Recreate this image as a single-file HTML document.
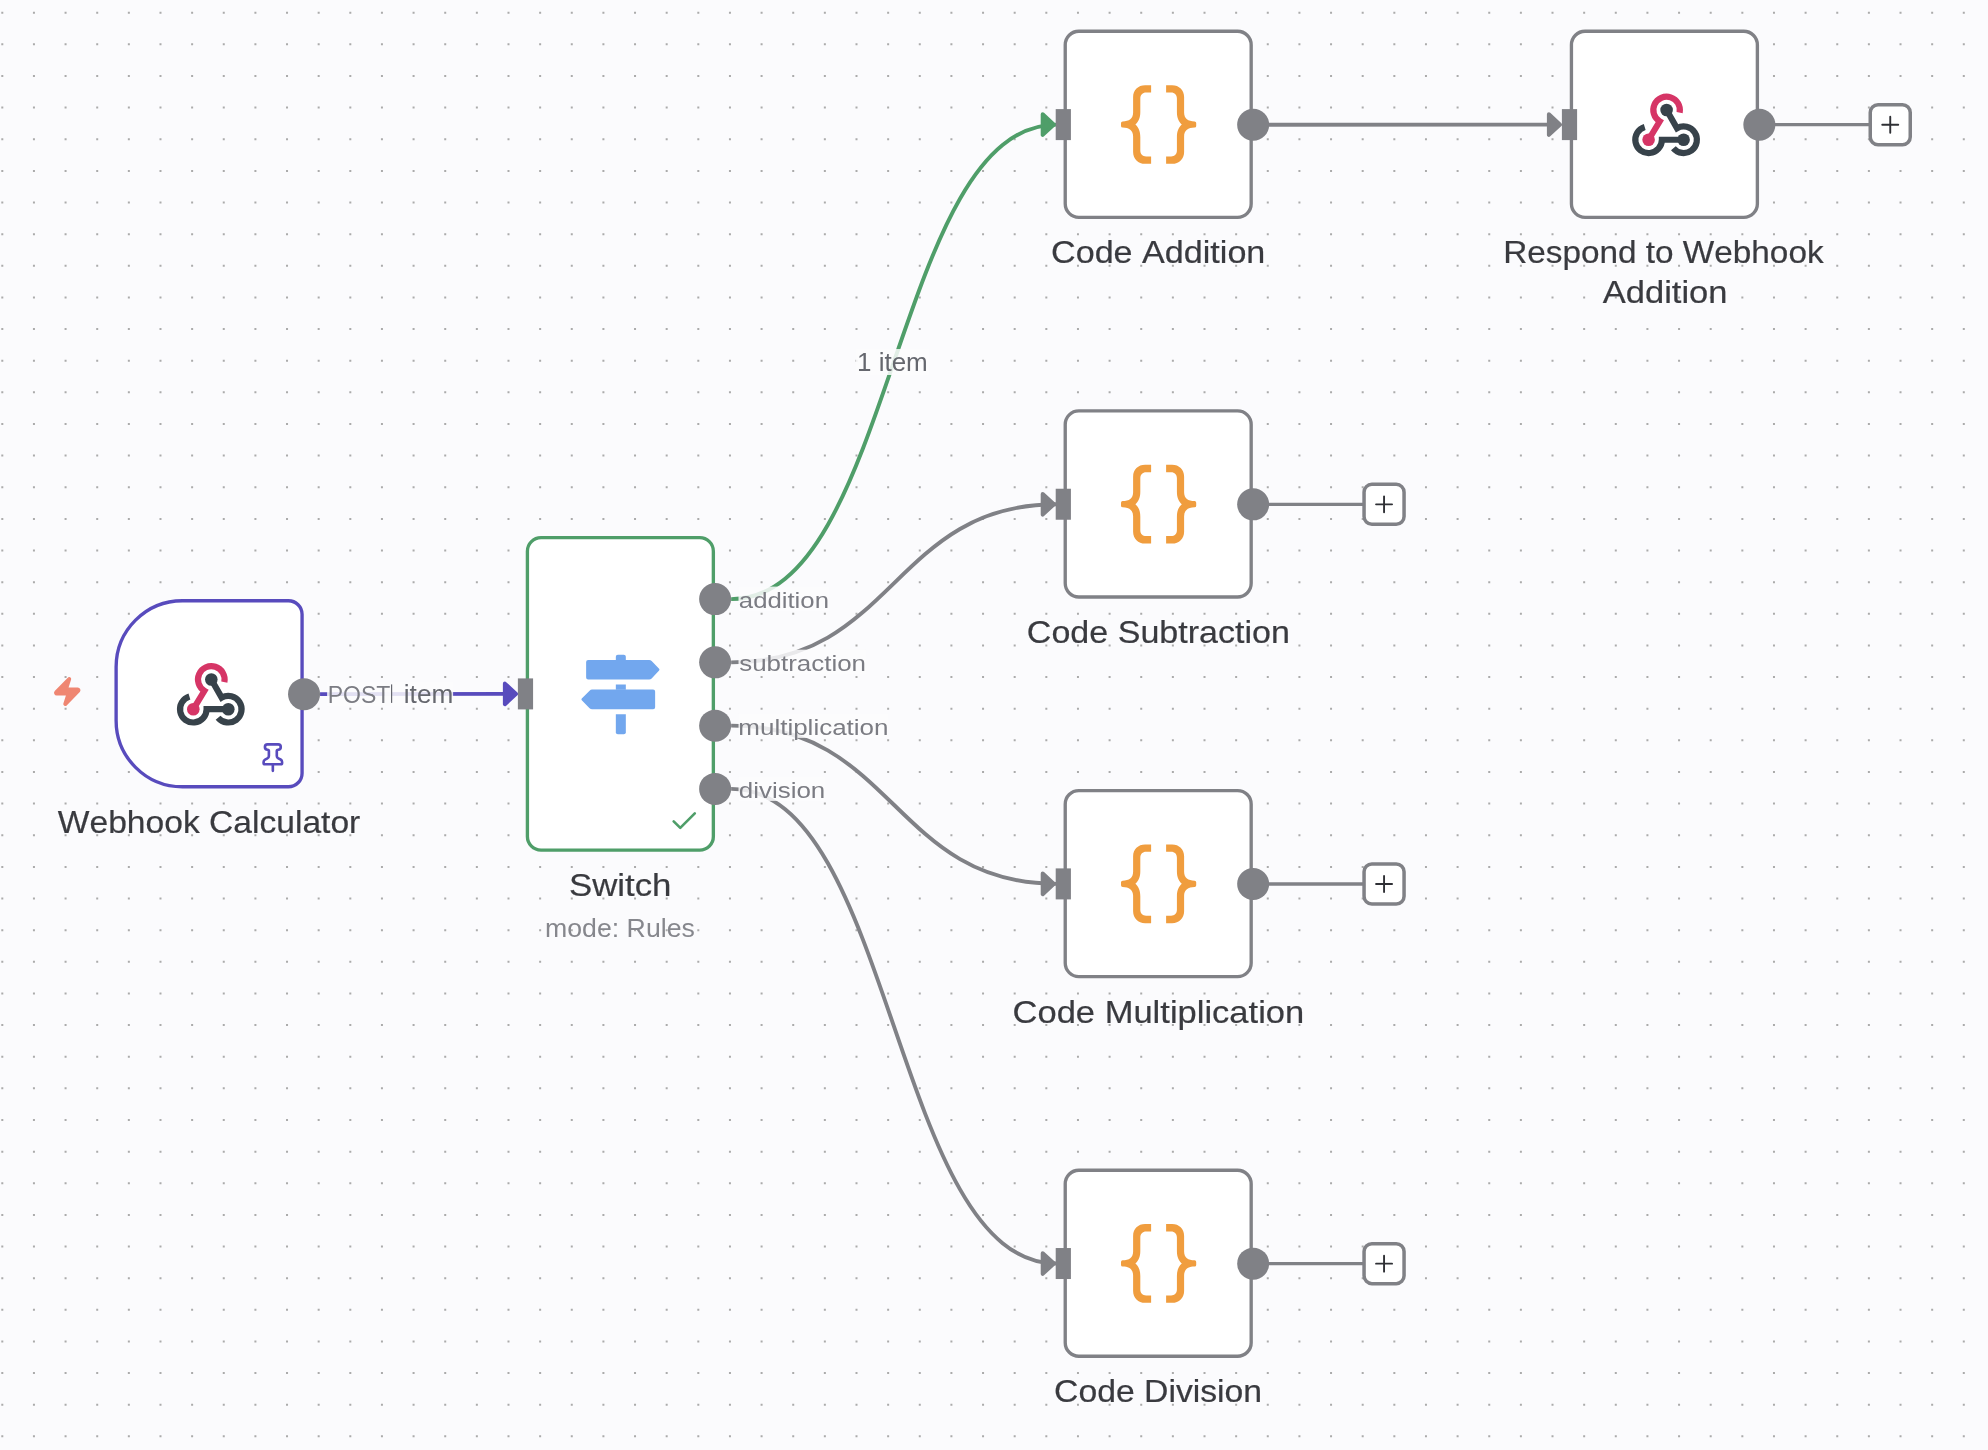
<!DOCTYPE html>
<html><head><meta charset="utf-8"><title>n8n workflow</title>
<style>html,body{margin:0;padding:0;background:#fbfbfd;width:1988px;height:1450px;overflow:hidden}svg{display:block;will-change:transform}text{font-family:"Liberation Sans",sans-serif;font-kerning:none}</style>
</head><body><svg width="1988" height="1450" viewBox="0 0 1988 1450" font-family="Liberation Sans, sans-serif"><path fill="#ababab" d="M1.3 11.7h2v2h-2zM1.3 43.34h2v2h-2zM1.3 74.97h2v2h-2zM1.3 106.61h2v2h-2zM1.3 138.25h2v2h-2zM1.3 169.88h2v2h-2zM1.3 201.52h2v2h-2zM1.3 233.16h2v2h-2zM1.3 264.8h2v2h-2zM1.3 296.43h2v2h-2zM1.3 328.07h2v2h-2zM1.3 359.71h2v2h-2zM1.3 391.34h2v2h-2zM1.3 422.98h2v2h-2zM1.3 454.62h2v2h-2zM1.3 486.25h2v2h-2zM1.3 517.89h2v2h-2zM1.3 549.53h2v2h-2zM1.3 581.17h2v2h-2zM1.3 612.8h2v2h-2zM1.3 644.44h2v2h-2zM1.3 676.08h2v2h-2zM1.3 707.71h2v2h-2zM1.3 739.35h2v2h-2zM1.3 770.99h2v2h-2zM1.3 802.62h2v2h-2zM1.3 834.26h2v2h-2zM1.3 865.9h2v2h-2zM1.3 897.54h2v2h-2zM1.3 929.17h2v2h-2zM1.3 960.81h2v2h-2zM1.3 992.45h2v2h-2zM1.3 1024.08h2v2h-2zM1.3 1055.72h2v2h-2zM1.3 1087.36h2v2h-2zM1.3 1119h2v2h-2zM1.3 1150.63h2v2h-2zM1.3 1182.27h2v2h-2zM1.3 1213.91h2v2h-2zM1.3 1245.54h2v2h-2zM1.3 1277.18h2v2h-2zM1.3 1308.82h2v2h-2zM1.3 1340.45h2v2h-2zM1.3 1372.09h2v2h-2zM1.3 1403.73h2v2h-2zM1.3 1435.37h2v2h-2zM32.94 11.7h2v2h-2zM32.94 43.34h2v2h-2zM32.94 74.97h2v2h-2zM32.94 106.61h2v2h-2zM32.94 138.25h2v2h-2zM32.94 169.88h2v2h-2zM32.94 201.52h2v2h-2zM32.94 233.16h2v2h-2zM32.94 264.8h2v2h-2zM32.94 296.43h2v2h-2zM32.94 328.07h2v2h-2zM32.94 359.71h2v2h-2zM32.94 391.34h2v2h-2zM32.94 422.98h2v2h-2zM32.94 454.62h2v2h-2zM32.94 486.25h2v2h-2zM32.94 517.89h2v2h-2zM32.94 549.53h2v2h-2zM32.94 581.17h2v2h-2zM32.94 612.8h2v2h-2zM32.94 644.44h2v2h-2zM32.94 676.08h2v2h-2zM32.94 707.71h2v2h-2zM32.94 739.35h2v2h-2zM32.94 770.99h2v2h-2zM32.94 802.62h2v2h-2zM32.94 834.26h2v2h-2zM32.94 865.9h2v2h-2zM32.94 897.54h2v2h-2zM32.94 929.17h2v2h-2zM32.94 960.81h2v2h-2zM32.94 992.45h2v2h-2zM32.94 1024.08h2v2h-2zM32.94 1055.72h2v2h-2zM32.94 1087.36h2v2h-2zM32.94 1119h2v2h-2zM32.94 1150.63h2v2h-2zM32.94 1182.27h2v2h-2zM32.94 1213.91h2v2h-2zM32.94 1245.54h2v2h-2zM32.94 1277.18h2v2h-2zM32.94 1308.82h2v2h-2zM32.94 1340.45h2v2h-2zM32.94 1372.09h2v2h-2zM32.94 1403.73h2v2h-2zM32.94 1435.37h2v2h-2zM64.57 11.7h2v2h-2zM64.57 43.34h2v2h-2zM64.57 74.97h2v2h-2zM64.57 106.61h2v2h-2zM64.57 138.25h2v2h-2zM64.57 169.88h2v2h-2zM64.57 201.52h2v2h-2zM64.57 233.16h2v2h-2zM64.57 264.8h2v2h-2zM64.57 296.43h2v2h-2zM64.57 328.07h2v2h-2zM64.57 359.71h2v2h-2zM64.57 391.34h2v2h-2zM64.57 422.98h2v2h-2zM64.57 454.62h2v2h-2zM64.57 486.25h2v2h-2zM64.57 517.89h2v2h-2zM64.57 549.53h2v2h-2zM64.57 581.17h2v2h-2zM64.57 612.8h2v2h-2zM64.57 644.44h2v2h-2zM64.57 676.08h2v2h-2zM64.57 707.71h2v2h-2zM64.57 739.35h2v2h-2zM64.57 770.99h2v2h-2zM64.57 802.62h2v2h-2zM64.57 834.26h2v2h-2zM64.57 865.9h2v2h-2zM64.57 897.54h2v2h-2zM64.57 929.17h2v2h-2zM64.57 960.81h2v2h-2zM64.57 992.45h2v2h-2zM64.57 1024.08h2v2h-2zM64.57 1055.72h2v2h-2zM64.57 1087.36h2v2h-2zM64.57 1119h2v2h-2zM64.57 1150.63h2v2h-2zM64.57 1182.27h2v2h-2zM64.57 1213.91h2v2h-2zM64.57 1245.54h2v2h-2zM64.57 1277.18h2v2h-2zM64.57 1308.82h2v2h-2zM64.57 1340.45h2v2h-2zM64.57 1372.09h2v2h-2zM64.57 1403.73h2v2h-2zM64.57 1435.37h2v2h-2zM96.21 11.7h2v2h-2zM96.21 43.34h2v2h-2zM96.21 74.97h2v2h-2zM96.21 106.61h2v2h-2zM96.21 138.25h2v2h-2zM96.21 169.88h2v2h-2zM96.21 201.52h2v2h-2zM96.21 233.16h2v2h-2zM96.21 264.8h2v2h-2zM96.21 296.43h2v2h-2zM96.21 328.07h2v2h-2zM96.21 359.71h2v2h-2zM96.21 391.34h2v2h-2zM96.21 422.98h2v2h-2zM96.21 454.62h2v2h-2zM96.21 486.25h2v2h-2zM96.21 517.89h2v2h-2zM96.21 549.53h2v2h-2zM96.21 581.17h2v2h-2zM96.21 612.8h2v2h-2zM96.21 644.44h2v2h-2zM96.21 676.08h2v2h-2zM96.21 707.71h2v2h-2zM96.21 739.35h2v2h-2zM96.21 770.99h2v2h-2zM96.21 802.62h2v2h-2zM96.21 834.26h2v2h-2zM96.21 865.9h2v2h-2zM96.21 897.54h2v2h-2zM96.21 929.17h2v2h-2zM96.21 960.81h2v2h-2zM96.21 992.45h2v2h-2zM96.21 1024.08h2v2h-2zM96.21 1055.72h2v2h-2zM96.21 1087.36h2v2h-2zM96.21 1119h2v2h-2zM96.21 1150.63h2v2h-2zM96.21 1182.27h2v2h-2zM96.21 1213.91h2v2h-2zM96.21 1245.54h2v2h-2zM96.21 1277.18h2v2h-2zM96.21 1308.82h2v2h-2zM96.21 1340.45h2v2h-2zM96.21 1372.09h2v2h-2zM96.21 1403.73h2v2h-2zM96.21 1435.37h2v2h-2zM127.85 11.7h2v2h-2zM127.85 43.34h2v2h-2zM127.85 74.97h2v2h-2zM127.85 106.61h2v2h-2zM127.85 138.25h2v2h-2zM127.85 169.88h2v2h-2zM127.85 201.52h2v2h-2zM127.85 233.16h2v2h-2zM127.85 264.8h2v2h-2zM127.85 296.43h2v2h-2zM127.85 328.07h2v2h-2zM127.85 359.71h2v2h-2zM127.85 391.34h2v2h-2zM127.85 422.98h2v2h-2zM127.85 454.62h2v2h-2zM127.85 486.25h2v2h-2zM127.85 517.89h2v2h-2zM127.85 549.53h2v2h-2zM127.85 581.17h2v2h-2zM127.85 612.8h2v2h-2zM127.85 644.44h2v2h-2zM127.85 676.08h2v2h-2zM127.85 707.71h2v2h-2zM127.85 739.35h2v2h-2zM127.85 770.99h2v2h-2zM127.85 802.62h2v2h-2zM127.85 834.26h2v2h-2zM127.85 865.9h2v2h-2zM127.85 897.54h2v2h-2zM127.85 929.17h2v2h-2zM127.85 960.81h2v2h-2zM127.85 992.45h2v2h-2zM127.85 1024.08h2v2h-2zM127.85 1055.72h2v2h-2zM127.85 1087.36h2v2h-2zM127.85 1119h2v2h-2zM127.85 1150.63h2v2h-2zM127.85 1182.27h2v2h-2zM127.85 1213.91h2v2h-2zM127.85 1245.54h2v2h-2zM127.85 1277.18h2v2h-2zM127.85 1308.82h2v2h-2zM127.85 1340.45h2v2h-2zM127.85 1372.09h2v2h-2zM127.85 1403.73h2v2h-2zM127.85 1435.37h2v2h-2zM159.49 11.7h2v2h-2zM159.49 43.34h2v2h-2zM159.49 74.97h2v2h-2zM159.49 106.61h2v2h-2zM159.49 138.25h2v2h-2zM159.49 169.88h2v2h-2zM159.49 201.52h2v2h-2zM159.49 233.16h2v2h-2zM159.49 264.8h2v2h-2zM159.49 296.43h2v2h-2zM159.49 328.07h2v2h-2zM159.49 359.71h2v2h-2zM159.49 391.34h2v2h-2zM159.49 422.98h2v2h-2zM159.49 454.62h2v2h-2zM159.49 486.25h2v2h-2zM159.49 517.89h2v2h-2zM159.49 549.53h2v2h-2zM159.49 581.17h2v2h-2zM159.49 612.8h2v2h-2zM159.49 644.44h2v2h-2zM159.49 676.08h2v2h-2zM159.49 707.71h2v2h-2zM159.49 739.35h2v2h-2zM159.49 770.99h2v2h-2zM159.49 802.62h2v2h-2zM159.49 834.26h2v2h-2zM159.49 865.9h2v2h-2zM159.49 897.54h2v2h-2zM159.49 929.17h2v2h-2zM159.49 960.81h2v2h-2zM159.49 992.45h2v2h-2zM159.49 1024.08h2v2h-2zM159.49 1055.72h2v2h-2zM159.49 1087.36h2v2h-2zM159.49 1119h2v2h-2zM159.49 1150.63h2v2h-2zM159.49 1182.27h2v2h-2zM159.49 1213.91h2v2h-2zM159.49 1245.54h2v2h-2zM159.49 1277.18h2v2h-2zM159.49 1308.82h2v2h-2zM159.49 1340.45h2v2h-2zM159.49 1372.09h2v2h-2zM159.49 1403.73h2v2h-2zM159.49 1435.37h2v2h-2zM191.12 11.7h2v2h-2zM191.12 43.34h2v2h-2zM191.12 74.97h2v2h-2zM191.12 106.61h2v2h-2zM191.12 138.25h2v2h-2zM191.12 169.88h2v2h-2zM191.12 201.52h2v2h-2zM191.12 233.16h2v2h-2zM191.12 264.8h2v2h-2zM191.12 296.43h2v2h-2zM191.12 328.07h2v2h-2zM191.12 359.71h2v2h-2zM191.12 391.34h2v2h-2zM191.12 422.98h2v2h-2zM191.12 454.62h2v2h-2zM191.12 486.25h2v2h-2zM191.12 517.89h2v2h-2zM191.12 549.53h2v2h-2zM191.12 581.17h2v2h-2zM191.12 612.8h2v2h-2zM191.12 644.44h2v2h-2zM191.12 676.08h2v2h-2zM191.12 707.71h2v2h-2zM191.12 739.35h2v2h-2zM191.12 770.99h2v2h-2zM191.12 802.62h2v2h-2zM191.12 834.26h2v2h-2zM191.12 865.9h2v2h-2zM191.12 897.54h2v2h-2zM191.12 929.17h2v2h-2zM191.12 960.81h2v2h-2zM191.12 992.45h2v2h-2zM191.12 1024.08h2v2h-2zM191.12 1055.72h2v2h-2zM191.12 1087.36h2v2h-2zM191.12 1119h2v2h-2zM191.12 1150.63h2v2h-2zM191.12 1182.27h2v2h-2zM191.12 1213.91h2v2h-2zM191.12 1245.54h2v2h-2zM191.12 1277.18h2v2h-2zM191.12 1308.82h2v2h-2zM191.12 1340.45h2v2h-2zM191.12 1372.09h2v2h-2zM191.12 1403.73h2v2h-2zM191.12 1435.37h2v2h-2zM222.76 11.7h2v2h-2zM222.76 43.34h2v2h-2zM222.76 74.97h2v2h-2zM222.76 106.61h2v2h-2zM222.76 138.25h2v2h-2zM222.76 169.88h2v2h-2zM222.76 201.52h2v2h-2zM222.76 233.16h2v2h-2zM222.76 264.8h2v2h-2zM222.76 296.43h2v2h-2zM222.76 328.07h2v2h-2zM222.76 359.71h2v2h-2zM222.76 391.34h2v2h-2zM222.76 422.98h2v2h-2zM222.76 454.62h2v2h-2zM222.76 486.25h2v2h-2zM222.76 517.89h2v2h-2zM222.76 549.53h2v2h-2zM222.76 581.17h2v2h-2zM222.76 612.8h2v2h-2zM222.76 644.44h2v2h-2zM222.76 676.08h2v2h-2zM222.76 707.71h2v2h-2zM222.76 739.35h2v2h-2zM222.76 770.99h2v2h-2zM222.76 802.62h2v2h-2zM222.76 834.26h2v2h-2zM222.76 865.9h2v2h-2zM222.76 897.54h2v2h-2zM222.76 929.17h2v2h-2zM222.76 960.81h2v2h-2zM222.76 992.45h2v2h-2zM222.76 1024.08h2v2h-2zM222.76 1055.72h2v2h-2zM222.76 1087.36h2v2h-2zM222.76 1119h2v2h-2zM222.76 1150.63h2v2h-2zM222.76 1182.27h2v2h-2zM222.76 1213.91h2v2h-2zM222.76 1245.54h2v2h-2zM222.76 1277.18h2v2h-2zM222.76 1308.82h2v2h-2zM222.76 1340.45h2v2h-2zM222.76 1372.09h2v2h-2zM222.76 1403.73h2v2h-2zM222.76 1435.37h2v2h-2zM254.4 11.7h2v2h-2zM254.4 43.34h2v2h-2zM254.4 74.97h2v2h-2zM254.4 106.61h2v2h-2zM254.4 138.25h2v2h-2zM254.4 169.88h2v2h-2zM254.4 201.52h2v2h-2zM254.4 233.16h2v2h-2zM254.4 264.8h2v2h-2zM254.4 296.43h2v2h-2zM254.4 328.07h2v2h-2zM254.4 359.71h2v2h-2zM254.4 391.34h2v2h-2zM254.4 422.98h2v2h-2zM254.4 454.62h2v2h-2zM254.4 486.25h2v2h-2zM254.4 517.89h2v2h-2zM254.4 549.53h2v2h-2zM254.4 581.17h2v2h-2zM254.4 612.8h2v2h-2zM254.4 644.44h2v2h-2zM254.4 676.08h2v2h-2zM254.4 707.71h2v2h-2zM254.4 739.35h2v2h-2zM254.4 770.99h2v2h-2zM254.4 802.62h2v2h-2zM254.4 834.26h2v2h-2zM254.4 865.9h2v2h-2zM254.4 897.54h2v2h-2zM254.4 929.17h2v2h-2zM254.4 960.81h2v2h-2zM254.4 992.45h2v2h-2zM254.4 1024.08h2v2h-2zM254.4 1055.72h2v2h-2zM254.4 1087.36h2v2h-2zM254.4 1119h2v2h-2zM254.4 1150.63h2v2h-2zM254.4 1182.27h2v2h-2zM254.4 1213.91h2v2h-2zM254.4 1245.54h2v2h-2zM254.4 1277.18h2v2h-2zM254.4 1308.82h2v2h-2zM254.4 1340.45h2v2h-2zM254.4 1372.09h2v2h-2zM254.4 1403.73h2v2h-2zM254.4 1435.37h2v2h-2zM286.03 11.7h2v2h-2zM286.03 43.34h2v2h-2zM286.03 74.97h2v2h-2zM286.03 106.61h2v2h-2zM286.03 138.25h2v2h-2zM286.03 169.88h2v2h-2zM286.03 201.52h2v2h-2zM286.03 233.16h2v2h-2zM286.03 264.8h2v2h-2zM286.03 296.43h2v2h-2zM286.03 328.07h2v2h-2zM286.03 359.71h2v2h-2zM286.03 391.34h2v2h-2zM286.03 422.98h2v2h-2zM286.03 454.62h2v2h-2zM286.03 486.25h2v2h-2zM286.03 517.89h2v2h-2zM286.03 549.53h2v2h-2zM286.03 581.17h2v2h-2zM286.03 612.8h2v2h-2zM286.03 644.44h2v2h-2zM286.03 676.08h2v2h-2zM286.03 707.71h2v2h-2zM286.03 739.35h2v2h-2zM286.03 770.99h2v2h-2zM286.03 802.62h2v2h-2zM286.03 834.26h2v2h-2zM286.03 865.9h2v2h-2zM286.03 897.54h2v2h-2zM286.03 929.17h2v2h-2zM286.03 960.81h2v2h-2zM286.03 992.45h2v2h-2zM286.03 1024.08h2v2h-2zM286.03 1055.72h2v2h-2zM286.03 1087.36h2v2h-2zM286.03 1119h2v2h-2zM286.03 1150.63h2v2h-2zM286.03 1182.27h2v2h-2zM286.03 1213.91h2v2h-2zM286.03 1245.54h2v2h-2zM286.03 1277.18h2v2h-2zM286.03 1308.82h2v2h-2zM286.03 1340.45h2v2h-2zM286.03 1372.09h2v2h-2zM286.03 1403.73h2v2h-2zM286.03 1435.37h2v2h-2zM317.67 11.7h2v2h-2zM317.67 43.34h2v2h-2zM317.67 74.97h2v2h-2zM317.67 106.61h2v2h-2zM317.67 138.25h2v2h-2zM317.67 169.88h2v2h-2zM317.67 201.52h2v2h-2zM317.67 233.16h2v2h-2zM317.67 264.8h2v2h-2zM317.67 296.43h2v2h-2zM317.67 328.07h2v2h-2zM317.67 359.71h2v2h-2zM317.67 391.34h2v2h-2zM317.67 422.98h2v2h-2zM317.67 454.62h2v2h-2zM317.67 486.25h2v2h-2zM317.67 517.89h2v2h-2zM317.67 549.53h2v2h-2zM317.67 581.17h2v2h-2zM317.67 612.8h2v2h-2zM317.67 644.44h2v2h-2zM317.67 676.08h2v2h-2zM317.67 707.71h2v2h-2zM317.67 739.35h2v2h-2zM317.67 770.99h2v2h-2zM317.67 802.62h2v2h-2zM317.67 834.26h2v2h-2zM317.67 865.9h2v2h-2zM317.67 897.54h2v2h-2zM317.67 929.17h2v2h-2zM317.67 960.81h2v2h-2zM317.67 992.45h2v2h-2zM317.67 1024.08h2v2h-2zM317.67 1055.72h2v2h-2zM317.67 1087.36h2v2h-2zM317.67 1119h2v2h-2zM317.67 1150.63h2v2h-2zM317.67 1182.27h2v2h-2zM317.67 1213.91h2v2h-2zM317.67 1245.54h2v2h-2zM317.67 1277.18h2v2h-2zM317.67 1308.82h2v2h-2zM317.67 1340.45h2v2h-2zM317.67 1372.09h2v2h-2zM317.67 1403.73h2v2h-2zM317.67 1435.37h2v2h-2zM349.31 11.7h2v2h-2zM349.31 43.34h2v2h-2zM349.31 74.97h2v2h-2zM349.31 106.61h2v2h-2zM349.31 138.25h2v2h-2zM349.31 169.88h2v2h-2zM349.31 201.52h2v2h-2zM349.31 233.16h2v2h-2zM349.31 264.8h2v2h-2zM349.31 296.43h2v2h-2zM349.31 328.07h2v2h-2zM349.31 359.71h2v2h-2zM349.31 391.34h2v2h-2zM349.31 422.98h2v2h-2zM349.31 454.62h2v2h-2zM349.31 486.25h2v2h-2zM349.31 517.89h2v2h-2zM349.31 549.53h2v2h-2zM349.31 581.17h2v2h-2zM349.31 612.8h2v2h-2zM349.31 644.44h2v2h-2zM349.31 676.08h2v2h-2zM349.31 707.71h2v2h-2zM349.31 739.35h2v2h-2zM349.31 770.99h2v2h-2zM349.31 802.62h2v2h-2zM349.31 834.26h2v2h-2zM349.31 865.9h2v2h-2zM349.31 897.54h2v2h-2zM349.31 929.17h2v2h-2zM349.31 960.81h2v2h-2zM349.31 992.45h2v2h-2zM349.31 1024.08h2v2h-2zM349.31 1055.72h2v2h-2zM349.31 1087.36h2v2h-2zM349.31 1119h2v2h-2zM349.31 1150.63h2v2h-2zM349.31 1182.27h2v2h-2zM349.31 1213.91h2v2h-2zM349.31 1245.54h2v2h-2zM349.31 1277.18h2v2h-2zM349.31 1308.82h2v2h-2zM349.31 1340.45h2v2h-2zM349.31 1372.09h2v2h-2zM349.31 1403.73h2v2h-2zM349.31 1435.37h2v2h-2zM380.94 11.7h2v2h-2zM380.94 43.34h2v2h-2zM380.94 74.97h2v2h-2zM380.94 106.61h2v2h-2zM380.94 138.25h2v2h-2zM380.94 169.88h2v2h-2zM380.94 201.52h2v2h-2zM380.94 233.16h2v2h-2zM380.94 264.8h2v2h-2zM380.94 296.43h2v2h-2zM380.94 328.07h2v2h-2zM380.94 359.71h2v2h-2zM380.94 391.34h2v2h-2zM380.94 422.98h2v2h-2zM380.94 454.62h2v2h-2zM380.94 486.25h2v2h-2zM380.94 517.89h2v2h-2zM380.94 549.53h2v2h-2zM380.94 581.17h2v2h-2zM380.94 612.8h2v2h-2zM380.94 644.44h2v2h-2zM380.94 676.08h2v2h-2zM380.94 707.71h2v2h-2zM380.94 739.35h2v2h-2zM380.94 770.99h2v2h-2zM380.94 802.62h2v2h-2zM380.94 834.26h2v2h-2zM380.94 865.9h2v2h-2zM380.94 897.54h2v2h-2zM380.94 929.17h2v2h-2zM380.94 960.81h2v2h-2zM380.94 992.45h2v2h-2zM380.94 1024.08h2v2h-2zM380.94 1055.72h2v2h-2zM380.94 1087.36h2v2h-2zM380.94 1119h2v2h-2zM380.94 1150.63h2v2h-2zM380.94 1182.27h2v2h-2zM380.94 1213.91h2v2h-2zM380.94 1245.54h2v2h-2zM380.94 1277.18h2v2h-2zM380.94 1308.82h2v2h-2zM380.94 1340.45h2v2h-2zM380.94 1372.09h2v2h-2zM380.94 1403.73h2v2h-2zM380.94 1435.37h2v2h-2zM412.58 11.7h2v2h-2zM412.58 43.34h2v2h-2zM412.58 74.97h2v2h-2zM412.58 106.61h2v2h-2zM412.58 138.25h2v2h-2zM412.58 169.88h2v2h-2zM412.58 201.52h2v2h-2zM412.58 233.16h2v2h-2zM412.58 264.8h2v2h-2zM412.58 296.43h2v2h-2zM412.58 328.07h2v2h-2zM412.58 359.71h2v2h-2zM412.58 391.34h2v2h-2zM412.58 422.98h2v2h-2zM412.58 454.62h2v2h-2zM412.58 486.25h2v2h-2zM412.58 517.89h2v2h-2zM412.58 549.53h2v2h-2zM412.58 581.17h2v2h-2zM412.58 612.8h2v2h-2zM412.58 644.44h2v2h-2zM412.58 676.08h2v2h-2zM412.58 707.71h2v2h-2zM412.58 739.35h2v2h-2zM412.58 770.99h2v2h-2zM412.58 802.62h2v2h-2zM412.58 834.26h2v2h-2zM412.58 865.9h2v2h-2zM412.58 897.54h2v2h-2zM412.58 929.17h2v2h-2zM412.58 960.81h2v2h-2zM412.58 992.45h2v2h-2zM412.58 1024.08h2v2h-2zM412.58 1055.72h2v2h-2zM412.58 1087.36h2v2h-2zM412.58 1119h2v2h-2zM412.58 1150.63h2v2h-2zM412.58 1182.27h2v2h-2zM412.58 1213.91h2v2h-2zM412.58 1245.54h2v2h-2zM412.58 1277.18h2v2h-2zM412.58 1308.82h2v2h-2zM412.58 1340.45h2v2h-2zM412.58 1372.09h2v2h-2zM412.58 1403.73h2v2h-2zM412.58 1435.37h2v2h-2zM444.22 11.7h2v2h-2zM444.22 43.34h2v2h-2zM444.22 74.97h2v2h-2zM444.22 106.61h2v2h-2zM444.22 138.25h2v2h-2zM444.22 169.88h2v2h-2zM444.22 201.52h2v2h-2zM444.22 233.16h2v2h-2zM444.22 264.8h2v2h-2zM444.22 296.43h2v2h-2zM444.22 328.07h2v2h-2zM444.22 359.71h2v2h-2zM444.22 391.34h2v2h-2zM444.22 422.98h2v2h-2zM444.22 454.62h2v2h-2zM444.22 486.25h2v2h-2zM444.22 517.89h2v2h-2zM444.22 549.53h2v2h-2zM444.22 581.17h2v2h-2zM444.22 612.8h2v2h-2zM444.22 644.44h2v2h-2zM444.22 676.08h2v2h-2zM444.22 707.71h2v2h-2zM444.22 739.35h2v2h-2zM444.22 770.99h2v2h-2zM444.22 802.62h2v2h-2zM444.22 834.26h2v2h-2zM444.22 865.9h2v2h-2zM444.22 897.54h2v2h-2zM444.22 929.17h2v2h-2zM444.22 960.81h2v2h-2zM444.22 992.45h2v2h-2zM444.22 1024.08h2v2h-2zM444.22 1055.72h2v2h-2zM444.22 1087.36h2v2h-2zM444.22 1119h2v2h-2zM444.22 1150.63h2v2h-2zM444.22 1182.27h2v2h-2zM444.22 1213.91h2v2h-2zM444.22 1245.54h2v2h-2zM444.22 1277.18h2v2h-2zM444.22 1308.82h2v2h-2zM444.22 1340.45h2v2h-2zM444.22 1372.09h2v2h-2zM444.22 1403.73h2v2h-2zM444.22 1435.37h2v2h-2zM475.86 11.7h2v2h-2zM475.86 43.34h2v2h-2zM475.86 74.97h2v2h-2zM475.86 106.61h2v2h-2zM475.86 138.25h2v2h-2zM475.86 169.88h2v2h-2zM475.86 201.52h2v2h-2zM475.86 233.16h2v2h-2zM475.86 264.8h2v2h-2zM475.86 296.43h2v2h-2zM475.86 328.07h2v2h-2zM475.86 359.71h2v2h-2zM475.86 391.34h2v2h-2zM475.86 422.98h2v2h-2zM475.86 454.62h2v2h-2zM475.86 486.25h2v2h-2zM475.86 517.89h2v2h-2zM475.86 549.53h2v2h-2zM475.86 581.17h2v2h-2zM475.86 612.8h2v2h-2zM475.86 644.44h2v2h-2zM475.86 676.08h2v2h-2zM475.86 707.71h2v2h-2zM475.86 739.35h2v2h-2zM475.86 770.99h2v2h-2zM475.86 802.62h2v2h-2zM475.86 834.26h2v2h-2zM475.86 865.9h2v2h-2zM475.86 897.54h2v2h-2zM475.86 929.17h2v2h-2zM475.86 960.81h2v2h-2zM475.86 992.45h2v2h-2zM475.86 1024.08h2v2h-2zM475.86 1055.72h2v2h-2zM475.86 1087.36h2v2h-2zM475.86 1119h2v2h-2zM475.86 1150.63h2v2h-2zM475.86 1182.27h2v2h-2zM475.86 1213.91h2v2h-2zM475.86 1245.54h2v2h-2zM475.86 1277.18h2v2h-2zM475.86 1308.82h2v2h-2zM475.86 1340.45h2v2h-2zM475.86 1372.09h2v2h-2zM475.86 1403.73h2v2h-2zM475.86 1435.37h2v2h-2zM507.49 11.7h2v2h-2zM507.49 43.34h2v2h-2zM507.49 74.97h2v2h-2zM507.49 106.61h2v2h-2zM507.49 138.25h2v2h-2zM507.49 169.88h2v2h-2zM507.49 201.52h2v2h-2zM507.49 233.16h2v2h-2zM507.49 264.8h2v2h-2zM507.49 296.43h2v2h-2zM507.49 328.07h2v2h-2zM507.49 359.71h2v2h-2zM507.49 391.34h2v2h-2zM507.49 422.98h2v2h-2zM507.49 454.62h2v2h-2zM507.49 486.25h2v2h-2zM507.49 517.89h2v2h-2zM507.49 549.53h2v2h-2zM507.49 581.17h2v2h-2zM507.49 612.8h2v2h-2zM507.49 644.44h2v2h-2zM507.49 676.08h2v2h-2zM507.49 707.71h2v2h-2zM507.49 739.35h2v2h-2zM507.49 770.99h2v2h-2zM507.49 802.62h2v2h-2zM507.49 834.26h2v2h-2zM507.49 865.9h2v2h-2zM507.49 897.54h2v2h-2zM507.49 929.17h2v2h-2zM507.49 960.81h2v2h-2zM507.49 992.45h2v2h-2zM507.49 1024.08h2v2h-2zM507.49 1055.72h2v2h-2zM507.49 1087.36h2v2h-2zM507.49 1119h2v2h-2zM507.49 1150.63h2v2h-2zM507.49 1182.27h2v2h-2zM507.49 1213.91h2v2h-2zM507.49 1245.54h2v2h-2zM507.49 1277.18h2v2h-2zM507.49 1308.82h2v2h-2zM507.49 1340.45h2v2h-2zM507.49 1372.09h2v2h-2zM507.49 1403.73h2v2h-2zM507.49 1435.37h2v2h-2zM539.13 11.7h2v2h-2zM539.13 43.34h2v2h-2zM539.13 74.97h2v2h-2zM539.13 106.61h2v2h-2zM539.13 138.25h2v2h-2zM539.13 169.88h2v2h-2zM539.13 201.52h2v2h-2zM539.13 233.16h2v2h-2zM539.13 264.8h2v2h-2zM539.13 296.43h2v2h-2zM539.13 328.07h2v2h-2zM539.13 359.71h2v2h-2zM539.13 391.34h2v2h-2zM539.13 422.98h2v2h-2zM539.13 454.62h2v2h-2zM539.13 486.25h2v2h-2zM539.13 517.89h2v2h-2zM539.13 549.53h2v2h-2zM539.13 581.17h2v2h-2zM539.13 612.8h2v2h-2zM539.13 644.44h2v2h-2zM539.13 676.08h2v2h-2zM539.13 707.71h2v2h-2zM539.13 739.35h2v2h-2zM539.13 770.99h2v2h-2zM539.13 802.62h2v2h-2zM539.13 834.26h2v2h-2zM539.13 865.9h2v2h-2zM539.13 897.54h2v2h-2zM539.13 929.17h2v2h-2zM539.13 960.81h2v2h-2zM539.13 992.45h2v2h-2zM539.13 1024.08h2v2h-2zM539.13 1055.72h2v2h-2zM539.13 1087.36h2v2h-2zM539.13 1119h2v2h-2zM539.13 1150.63h2v2h-2zM539.13 1182.27h2v2h-2zM539.13 1213.91h2v2h-2zM539.13 1245.54h2v2h-2zM539.13 1277.18h2v2h-2zM539.13 1308.82h2v2h-2zM539.13 1340.45h2v2h-2zM539.13 1372.09h2v2h-2zM539.13 1403.73h2v2h-2zM539.13 1435.37h2v2h-2zM570.77 11.7h2v2h-2zM570.77 43.34h2v2h-2zM570.77 74.97h2v2h-2zM570.77 106.61h2v2h-2zM570.77 138.25h2v2h-2zM570.77 169.88h2v2h-2zM570.77 201.52h2v2h-2zM570.77 233.16h2v2h-2zM570.77 264.8h2v2h-2zM570.77 296.43h2v2h-2zM570.77 328.07h2v2h-2zM570.77 359.71h2v2h-2zM570.77 391.34h2v2h-2zM570.77 422.98h2v2h-2zM570.77 454.62h2v2h-2zM570.77 486.25h2v2h-2zM570.77 517.89h2v2h-2zM570.77 549.53h2v2h-2zM570.77 581.17h2v2h-2zM570.77 612.8h2v2h-2zM570.77 644.44h2v2h-2zM570.77 676.08h2v2h-2zM570.77 707.71h2v2h-2zM570.77 739.35h2v2h-2zM570.77 770.99h2v2h-2zM570.77 802.62h2v2h-2zM570.77 834.26h2v2h-2zM570.77 865.9h2v2h-2zM570.77 897.54h2v2h-2zM570.77 929.17h2v2h-2zM570.77 960.81h2v2h-2zM570.77 992.45h2v2h-2zM570.77 1024.08h2v2h-2zM570.77 1055.72h2v2h-2zM570.77 1087.36h2v2h-2zM570.77 1119h2v2h-2zM570.77 1150.63h2v2h-2zM570.77 1182.27h2v2h-2zM570.77 1213.91h2v2h-2zM570.77 1245.54h2v2h-2zM570.77 1277.18h2v2h-2zM570.77 1308.82h2v2h-2zM570.77 1340.45h2v2h-2zM570.77 1372.09h2v2h-2zM570.77 1403.73h2v2h-2zM570.77 1435.37h2v2h-2zM602.4 11.7h2v2h-2zM602.4 43.34h2v2h-2zM602.4 74.97h2v2h-2zM602.4 106.61h2v2h-2zM602.4 138.25h2v2h-2zM602.4 169.88h2v2h-2zM602.4 201.52h2v2h-2zM602.4 233.16h2v2h-2zM602.4 264.8h2v2h-2zM602.4 296.43h2v2h-2zM602.4 328.07h2v2h-2zM602.4 359.71h2v2h-2zM602.4 391.34h2v2h-2zM602.4 422.98h2v2h-2zM602.4 454.62h2v2h-2zM602.4 486.25h2v2h-2zM602.4 517.89h2v2h-2zM602.4 549.53h2v2h-2zM602.4 581.17h2v2h-2zM602.4 612.8h2v2h-2zM602.4 644.44h2v2h-2zM602.4 676.08h2v2h-2zM602.4 707.71h2v2h-2zM602.4 739.35h2v2h-2zM602.4 770.99h2v2h-2zM602.4 802.62h2v2h-2zM602.4 834.26h2v2h-2zM602.4 865.9h2v2h-2zM602.4 897.54h2v2h-2zM602.4 929.17h2v2h-2zM602.4 960.81h2v2h-2zM602.4 992.45h2v2h-2zM602.4 1024.08h2v2h-2zM602.4 1055.72h2v2h-2zM602.4 1087.36h2v2h-2zM602.4 1119h2v2h-2zM602.4 1150.63h2v2h-2zM602.4 1182.27h2v2h-2zM602.4 1213.91h2v2h-2zM602.4 1245.54h2v2h-2zM602.4 1277.18h2v2h-2zM602.4 1308.82h2v2h-2zM602.4 1340.45h2v2h-2zM602.4 1372.09h2v2h-2zM602.4 1403.73h2v2h-2zM602.4 1435.37h2v2h-2zM634.04 11.7h2v2h-2zM634.04 43.34h2v2h-2zM634.04 74.97h2v2h-2zM634.04 106.61h2v2h-2zM634.04 138.25h2v2h-2zM634.04 169.88h2v2h-2zM634.04 201.52h2v2h-2zM634.04 233.16h2v2h-2zM634.04 264.8h2v2h-2zM634.04 296.43h2v2h-2zM634.04 328.07h2v2h-2zM634.04 359.71h2v2h-2zM634.04 391.34h2v2h-2zM634.04 422.98h2v2h-2zM634.04 454.62h2v2h-2zM634.04 486.25h2v2h-2zM634.04 517.89h2v2h-2zM634.04 549.53h2v2h-2zM634.04 581.17h2v2h-2zM634.04 612.8h2v2h-2zM634.04 644.44h2v2h-2zM634.04 676.08h2v2h-2zM634.04 707.71h2v2h-2zM634.04 739.35h2v2h-2zM634.04 770.99h2v2h-2zM634.04 802.62h2v2h-2zM634.04 834.26h2v2h-2zM634.04 865.9h2v2h-2zM634.04 897.54h2v2h-2zM634.04 929.17h2v2h-2zM634.04 960.81h2v2h-2zM634.04 992.45h2v2h-2zM634.04 1024.08h2v2h-2zM634.04 1055.72h2v2h-2zM634.04 1087.36h2v2h-2zM634.04 1119h2v2h-2zM634.04 1150.63h2v2h-2zM634.04 1182.27h2v2h-2zM634.04 1213.91h2v2h-2zM634.04 1245.54h2v2h-2zM634.04 1277.18h2v2h-2zM634.04 1308.82h2v2h-2zM634.04 1340.45h2v2h-2zM634.04 1372.09h2v2h-2zM634.04 1403.73h2v2h-2zM634.04 1435.37h2v2h-2zM665.68 11.7h2v2h-2zM665.68 43.34h2v2h-2zM665.68 74.97h2v2h-2zM665.68 106.61h2v2h-2zM665.68 138.25h2v2h-2zM665.68 169.88h2v2h-2zM665.68 201.52h2v2h-2zM665.68 233.16h2v2h-2zM665.68 264.8h2v2h-2zM665.68 296.43h2v2h-2zM665.68 328.07h2v2h-2zM665.68 359.71h2v2h-2zM665.68 391.34h2v2h-2zM665.68 422.98h2v2h-2zM665.68 454.62h2v2h-2zM665.68 486.25h2v2h-2zM665.68 517.89h2v2h-2zM665.68 549.53h2v2h-2zM665.68 581.17h2v2h-2zM665.68 612.8h2v2h-2zM665.68 644.44h2v2h-2zM665.68 676.08h2v2h-2zM665.68 707.71h2v2h-2zM665.68 739.35h2v2h-2zM665.68 770.99h2v2h-2zM665.68 802.62h2v2h-2zM665.68 834.26h2v2h-2zM665.68 865.9h2v2h-2zM665.68 897.54h2v2h-2zM665.68 929.17h2v2h-2zM665.68 960.81h2v2h-2zM665.68 992.45h2v2h-2zM665.68 1024.08h2v2h-2zM665.68 1055.72h2v2h-2zM665.68 1087.36h2v2h-2zM665.68 1119h2v2h-2zM665.68 1150.63h2v2h-2zM665.68 1182.27h2v2h-2zM665.68 1213.91h2v2h-2zM665.68 1245.54h2v2h-2zM665.68 1277.18h2v2h-2zM665.68 1308.82h2v2h-2zM665.68 1340.45h2v2h-2zM665.68 1372.09h2v2h-2zM665.68 1403.73h2v2h-2zM665.68 1435.37h2v2h-2zM697.31 11.7h2v2h-2zM697.31 43.34h2v2h-2zM697.31 74.97h2v2h-2zM697.31 106.61h2v2h-2zM697.31 138.25h2v2h-2zM697.31 169.88h2v2h-2zM697.31 201.52h2v2h-2zM697.31 233.16h2v2h-2zM697.31 264.8h2v2h-2zM697.31 296.43h2v2h-2zM697.31 328.07h2v2h-2zM697.31 359.71h2v2h-2zM697.31 391.34h2v2h-2zM697.31 422.98h2v2h-2zM697.31 454.62h2v2h-2zM697.31 486.25h2v2h-2zM697.31 517.89h2v2h-2zM697.31 549.53h2v2h-2zM697.31 581.17h2v2h-2zM697.31 612.8h2v2h-2zM697.31 644.44h2v2h-2zM697.31 676.08h2v2h-2zM697.31 707.71h2v2h-2zM697.31 739.35h2v2h-2zM697.31 770.99h2v2h-2zM697.31 802.62h2v2h-2zM697.31 834.26h2v2h-2zM697.31 865.9h2v2h-2zM697.31 897.54h2v2h-2zM697.31 929.17h2v2h-2zM697.31 960.81h2v2h-2zM697.31 992.45h2v2h-2zM697.31 1024.08h2v2h-2zM697.31 1055.72h2v2h-2zM697.31 1087.36h2v2h-2zM697.31 1119h2v2h-2zM697.31 1150.63h2v2h-2zM697.31 1182.27h2v2h-2zM697.31 1213.91h2v2h-2zM697.31 1245.54h2v2h-2zM697.31 1277.18h2v2h-2zM697.31 1308.82h2v2h-2zM697.31 1340.45h2v2h-2zM697.31 1372.09h2v2h-2zM697.31 1403.73h2v2h-2zM697.31 1435.37h2v2h-2zM728.95 11.7h2v2h-2zM728.95 43.34h2v2h-2zM728.95 74.97h2v2h-2zM728.95 106.61h2v2h-2zM728.95 138.25h2v2h-2zM728.95 169.88h2v2h-2zM728.95 201.52h2v2h-2zM728.95 233.16h2v2h-2zM728.95 264.8h2v2h-2zM728.95 296.43h2v2h-2zM728.95 328.07h2v2h-2zM728.95 359.71h2v2h-2zM728.95 391.34h2v2h-2zM728.95 422.98h2v2h-2zM728.95 454.62h2v2h-2zM728.95 486.25h2v2h-2zM728.95 517.89h2v2h-2zM728.95 549.53h2v2h-2zM728.95 581.17h2v2h-2zM728.95 612.8h2v2h-2zM728.95 644.44h2v2h-2zM728.95 676.08h2v2h-2zM728.95 707.71h2v2h-2zM728.95 739.35h2v2h-2zM728.95 770.99h2v2h-2zM728.95 802.62h2v2h-2zM728.95 834.26h2v2h-2zM728.95 865.9h2v2h-2zM728.95 897.54h2v2h-2zM728.95 929.17h2v2h-2zM728.95 960.81h2v2h-2zM728.95 992.45h2v2h-2zM728.95 1024.08h2v2h-2zM728.95 1055.72h2v2h-2zM728.95 1087.36h2v2h-2zM728.95 1119h2v2h-2zM728.95 1150.63h2v2h-2zM728.95 1182.27h2v2h-2zM728.95 1213.91h2v2h-2zM728.95 1245.54h2v2h-2zM728.95 1277.18h2v2h-2zM728.95 1308.82h2v2h-2zM728.95 1340.45h2v2h-2zM728.95 1372.09h2v2h-2zM728.95 1403.73h2v2h-2zM728.95 1435.37h2v2h-2zM760.59 11.7h2v2h-2zM760.59 43.34h2v2h-2zM760.59 74.97h2v2h-2zM760.59 106.61h2v2h-2zM760.59 138.25h2v2h-2zM760.59 169.88h2v2h-2zM760.59 201.52h2v2h-2zM760.59 233.16h2v2h-2zM760.59 264.8h2v2h-2zM760.59 296.43h2v2h-2zM760.59 328.07h2v2h-2zM760.59 359.71h2v2h-2zM760.59 391.34h2v2h-2zM760.59 422.98h2v2h-2zM760.59 454.62h2v2h-2zM760.59 486.25h2v2h-2zM760.59 517.89h2v2h-2zM760.59 549.53h2v2h-2zM760.59 581.17h2v2h-2zM760.59 612.8h2v2h-2zM760.59 644.44h2v2h-2zM760.59 676.08h2v2h-2zM760.59 707.71h2v2h-2zM760.59 739.35h2v2h-2zM760.59 770.99h2v2h-2zM760.59 802.62h2v2h-2zM760.59 834.26h2v2h-2zM760.59 865.9h2v2h-2zM760.59 897.54h2v2h-2zM760.59 929.17h2v2h-2zM760.59 960.81h2v2h-2zM760.59 992.45h2v2h-2zM760.59 1024.08h2v2h-2zM760.59 1055.72h2v2h-2zM760.59 1087.36h2v2h-2zM760.59 1119h2v2h-2zM760.59 1150.63h2v2h-2zM760.59 1182.27h2v2h-2zM760.59 1213.91h2v2h-2zM760.59 1245.54h2v2h-2zM760.59 1277.18h2v2h-2zM760.59 1308.82h2v2h-2zM760.59 1340.45h2v2h-2zM760.59 1372.09h2v2h-2zM760.59 1403.73h2v2h-2zM760.59 1435.37h2v2h-2zM792.22 11.7h2v2h-2zM792.22 43.34h2v2h-2zM792.22 74.97h2v2h-2zM792.22 106.61h2v2h-2zM792.22 138.25h2v2h-2zM792.22 169.88h2v2h-2zM792.22 201.52h2v2h-2zM792.22 233.16h2v2h-2zM792.22 264.8h2v2h-2zM792.22 296.43h2v2h-2zM792.22 328.07h2v2h-2zM792.22 359.71h2v2h-2zM792.22 391.34h2v2h-2zM792.22 422.98h2v2h-2zM792.22 454.62h2v2h-2zM792.22 486.25h2v2h-2zM792.22 517.89h2v2h-2zM792.22 549.53h2v2h-2zM792.22 581.17h2v2h-2zM792.22 612.8h2v2h-2zM792.22 644.44h2v2h-2zM792.22 676.08h2v2h-2zM792.22 707.71h2v2h-2zM792.22 739.35h2v2h-2zM792.22 770.99h2v2h-2zM792.22 802.62h2v2h-2zM792.22 834.26h2v2h-2zM792.22 865.9h2v2h-2zM792.22 897.54h2v2h-2zM792.22 929.17h2v2h-2zM792.22 960.81h2v2h-2zM792.22 992.45h2v2h-2zM792.22 1024.08h2v2h-2zM792.22 1055.72h2v2h-2zM792.22 1087.36h2v2h-2zM792.22 1119h2v2h-2zM792.22 1150.63h2v2h-2zM792.22 1182.27h2v2h-2zM792.22 1213.91h2v2h-2zM792.22 1245.54h2v2h-2zM792.22 1277.18h2v2h-2zM792.22 1308.82h2v2h-2zM792.22 1340.45h2v2h-2zM792.22 1372.09h2v2h-2zM792.22 1403.73h2v2h-2zM792.22 1435.37h2v2h-2zM823.86 11.7h2v2h-2zM823.86 43.34h2v2h-2zM823.86 74.97h2v2h-2zM823.86 106.61h2v2h-2zM823.86 138.25h2v2h-2zM823.86 169.88h2v2h-2zM823.86 201.52h2v2h-2zM823.86 233.16h2v2h-2zM823.86 264.8h2v2h-2zM823.86 296.43h2v2h-2zM823.86 328.07h2v2h-2zM823.86 359.71h2v2h-2zM823.86 391.34h2v2h-2zM823.86 422.98h2v2h-2zM823.86 454.62h2v2h-2zM823.86 486.25h2v2h-2zM823.86 517.89h2v2h-2zM823.86 549.53h2v2h-2zM823.86 581.17h2v2h-2zM823.86 612.8h2v2h-2zM823.86 644.44h2v2h-2zM823.86 676.08h2v2h-2zM823.86 707.71h2v2h-2zM823.86 739.35h2v2h-2zM823.86 770.99h2v2h-2zM823.86 802.62h2v2h-2zM823.86 834.26h2v2h-2zM823.86 865.9h2v2h-2zM823.86 897.54h2v2h-2zM823.86 929.17h2v2h-2zM823.86 960.81h2v2h-2zM823.86 992.45h2v2h-2zM823.86 1024.08h2v2h-2zM823.86 1055.72h2v2h-2zM823.86 1087.36h2v2h-2zM823.86 1119h2v2h-2zM823.86 1150.63h2v2h-2zM823.86 1182.27h2v2h-2zM823.86 1213.91h2v2h-2zM823.86 1245.54h2v2h-2zM823.86 1277.18h2v2h-2zM823.86 1308.82h2v2h-2zM823.86 1340.45h2v2h-2zM823.86 1372.09h2v2h-2zM823.86 1403.73h2v2h-2zM823.86 1435.37h2v2h-2zM855.5 11.7h2v2h-2zM855.5 43.34h2v2h-2zM855.5 74.97h2v2h-2zM855.5 106.61h2v2h-2zM855.5 138.25h2v2h-2zM855.5 169.88h2v2h-2zM855.5 201.52h2v2h-2zM855.5 233.16h2v2h-2zM855.5 264.8h2v2h-2zM855.5 296.43h2v2h-2zM855.5 328.07h2v2h-2zM855.5 359.71h2v2h-2zM855.5 391.34h2v2h-2zM855.5 422.98h2v2h-2zM855.5 454.62h2v2h-2zM855.5 486.25h2v2h-2zM855.5 517.89h2v2h-2zM855.5 549.53h2v2h-2zM855.5 581.17h2v2h-2zM855.5 612.8h2v2h-2zM855.5 644.44h2v2h-2zM855.5 676.08h2v2h-2zM855.5 707.71h2v2h-2zM855.5 739.35h2v2h-2zM855.5 770.99h2v2h-2zM855.5 802.62h2v2h-2zM855.5 834.26h2v2h-2zM855.5 865.9h2v2h-2zM855.5 897.54h2v2h-2zM855.5 929.17h2v2h-2zM855.5 960.81h2v2h-2zM855.5 992.45h2v2h-2zM855.5 1024.08h2v2h-2zM855.5 1055.72h2v2h-2zM855.5 1087.36h2v2h-2zM855.5 1119h2v2h-2zM855.5 1150.63h2v2h-2zM855.5 1182.27h2v2h-2zM855.5 1213.91h2v2h-2zM855.5 1245.54h2v2h-2zM855.5 1277.18h2v2h-2zM855.5 1308.82h2v2h-2zM855.5 1340.45h2v2h-2zM855.5 1372.09h2v2h-2zM855.5 1403.73h2v2h-2zM855.5 1435.37h2v2h-2zM887.14 11.7h2v2h-2zM887.14 43.34h2v2h-2zM887.14 74.97h2v2h-2zM887.14 106.61h2v2h-2zM887.14 138.25h2v2h-2zM887.14 169.88h2v2h-2zM887.14 201.52h2v2h-2zM887.14 233.16h2v2h-2zM887.14 264.8h2v2h-2zM887.14 296.43h2v2h-2zM887.14 328.07h2v2h-2zM887.14 359.71h2v2h-2zM887.14 391.34h2v2h-2zM887.14 422.98h2v2h-2zM887.14 454.62h2v2h-2zM887.14 486.25h2v2h-2zM887.14 517.89h2v2h-2zM887.14 549.53h2v2h-2zM887.14 581.17h2v2h-2zM887.14 612.8h2v2h-2zM887.14 644.44h2v2h-2zM887.14 676.08h2v2h-2zM887.14 707.71h2v2h-2zM887.14 739.35h2v2h-2zM887.14 770.99h2v2h-2zM887.14 802.62h2v2h-2zM887.14 834.26h2v2h-2zM887.14 865.9h2v2h-2zM887.14 897.54h2v2h-2zM887.14 929.17h2v2h-2zM887.14 960.81h2v2h-2zM887.14 992.45h2v2h-2zM887.14 1024.08h2v2h-2zM887.14 1055.72h2v2h-2zM887.14 1087.36h2v2h-2zM887.14 1119h2v2h-2zM887.14 1150.63h2v2h-2zM887.14 1182.27h2v2h-2zM887.14 1213.91h2v2h-2zM887.14 1245.54h2v2h-2zM887.14 1277.18h2v2h-2zM887.14 1308.82h2v2h-2zM887.14 1340.45h2v2h-2zM887.14 1372.09h2v2h-2zM887.14 1403.73h2v2h-2zM887.14 1435.37h2v2h-2zM918.77 11.7h2v2h-2zM918.77 43.34h2v2h-2zM918.77 74.97h2v2h-2zM918.77 106.61h2v2h-2zM918.77 138.25h2v2h-2zM918.77 169.88h2v2h-2zM918.77 201.52h2v2h-2zM918.77 233.16h2v2h-2zM918.77 264.8h2v2h-2zM918.77 296.43h2v2h-2zM918.77 328.07h2v2h-2zM918.77 359.71h2v2h-2zM918.77 391.34h2v2h-2zM918.77 422.98h2v2h-2zM918.77 454.62h2v2h-2zM918.77 486.25h2v2h-2zM918.77 517.89h2v2h-2zM918.77 549.53h2v2h-2zM918.77 581.17h2v2h-2zM918.77 612.8h2v2h-2zM918.77 644.44h2v2h-2zM918.77 676.08h2v2h-2zM918.77 707.71h2v2h-2zM918.77 739.35h2v2h-2zM918.77 770.99h2v2h-2zM918.77 802.62h2v2h-2zM918.77 834.26h2v2h-2zM918.77 865.9h2v2h-2zM918.77 897.54h2v2h-2zM918.77 929.17h2v2h-2zM918.77 960.81h2v2h-2zM918.77 992.45h2v2h-2zM918.77 1024.08h2v2h-2zM918.77 1055.72h2v2h-2zM918.77 1087.36h2v2h-2zM918.77 1119h2v2h-2zM918.77 1150.63h2v2h-2zM918.77 1182.27h2v2h-2zM918.77 1213.91h2v2h-2zM918.77 1245.54h2v2h-2zM918.77 1277.18h2v2h-2zM918.77 1308.82h2v2h-2zM918.77 1340.45h2v2h-2zM918.77 1372.09h2v2h-2zM918.77 1403.73h2v2h-2zM918.77 1435.37h2v2h-2zM950.41 11.7h2v2h-2zM950.41 43.34h2v2h-2zM950.41 74.97h2v2h-2zM950.41 106.61h2v2h-2zM950.41 138.25h2v2h-2zM950.41 169.88h2v2h-2zM950.41 201.52h2v2h-2zM950.41 233.16h2v2h-2zM950.41 264.8h2v2h-2zM950.41 296.43h2v2h-2zM950.41 328.07h2v2h-2zM950.41 359.71h2v2h-2zM950.41 391.34h2v2h-2zM950.41 422.98h2v2h-2zM950.41 454.62h2v2h-2zM950.41 486.25h2v2h-2zM950.41 517.89h2v2h-2zM950.41 549.53h2v2h-2zM950.41 581.17h2v2h-2zM950.41 612.8h2v2h-2zM950.41 644.44h2v2h-2zM950.41 676.08h2v2h-2zM950.41 707.71h2v2h-2zM950.41 739.35h2v2h-2zM950.41 770.99h2v2h-2zM950.41 802.62h2v2h-2zM950.41 834.26h2v2h-2zM950.41 865.9h2v2h-2zM950.41 897.54h2v2h-2zM950.41 929.17h2v2h-2zM950.41 960.81h2v2h-2zM950.41 992.45h2v2h-2zM950.41 1024.08h2v2h-2zM950.41 1055.72h2v2h-2zM950.41 1087.36h2v2h-2zM950.41 1119h2v2h-2zM950.41 1150.63h2v2h-2zM950.41 1182.27h2v2h-2zM950.41 1213.91h2v2h-2zM950.41 1245.54h2v2h-2zM950.41 1277.18h2v2h-2zM950.41 1308.82h2v2h-2zM950.41 1340.45h2v2h-2zM950.41 1372.09h2v2h-2zM950.41 1403.73h2v2h-2zM950.41 1435.37h2v2h-2zM982.05 11.7h2v2h-2zM982.05 43.34h2v2h-2zM982.05 74.97h2v2h-2zM982.05 106.61h2v2h-2zM982.05 138.25h2v2h-2zM982.05 169.88h2v2h-2zM982.05 201.52h2v2h-2zM982.05 233.16h2v2h-2zM982.05 264.8h2v2h-2zM982.05 296.43h2v2h-2zM982.05 328.07h2v2h-2zM982.05 359.71h2v2h-2zM982.05 391.34h2v2h-2zM982.05 422.98h2v2h-2zM982.05 454.62h2v2h-2zM982.05 486.25h2v2h-2zM982.05 517.89h2v2h-2zM982.05 549.53h2v2h-2zM982.05 581.17h2v2h-2zM982.05 612.8h2v2h-2zM982.05 644.44h2v2h-2zM982.05 676.08h2v2h-2zM982.05 707.71h2v2h-2zM982.05 739.35h2v2h-2zM982.05 770.99h2v2h-2zM982.05 802.62h2v2h-2zM982.05 834.26h2v2h-2zM982.05 865.9h2v2h-2zM982.05 897.54h2v2h-2zM982.05 929.17h2v2h-2zM982.05 960.81h2v2h-2zM982.05 992.45h2v2h-2zM982.05 1024.08h2v2h-2zM982.05 1055.72h2v2h-2zM982.05 1087.36h2v2h-2zM982.05 1119h2v2h-2zM982.05 1150.63h2v2h-2zM982.05 1182.27h2v2h-2zM982.05 1213.91h2v2h-2zM982.05 1245.54h2v2h-2zM982.05 1277.18h2v2h-2zM982.05 1308.82h2v2h-2zM982.05 1340.45h2v2h-2zM982.05 1372.09h2v2h-2zM982.05 1403.73h2v2h-2zM982.05 1435.37h2v2h-2zM1013.68 11.7h2v2h-2zM1013.68 43.34h2v2h-2zM1013.68 74.97h2v2h-2zM1013.68 106.61h2v2h-2zM1013.68 138.25h2v2h-2zM1013.68 169.88h2v2h-2zM1013.68 201.52h2v2h-2zM1013.68 233.16h2v2h-2zM1013.68 264.8h2v2h-2zM1013.68 296.43h2v2h-2zM1013.68 328.07h2v2h-2zM1013.68 359.71h2v2h-2zM1013.68 391.34h2v2h-2zM1013.68 422.98h2v2h-2zM1013.68 454.62h2v2h-2zM1013.68 486.25h2v2h-2zM1013.68 517.89h2v2h-2zM1013.68 549.53h2v2h-2zM1013.68 581.17h2v2h-2zM1013.68 612.8h2v2h-2zM1013.68 644.44h2v2h-2zM1013.68 676.08h2v2h-2zM1013.68 707.71h2v2h-2zM1013.68 739.35h2v2h-2zM1013.68 770.99h2v2h-2zM1013.68 802.62h2v2h-2zM1013.68 834.26h2v2h-2zM1013.68 865.9h2v2h-2zM1013.68 897.54h2v2h-2zM1013.68 929.17h2v2h-2zM1013.68 960.81h2v2h-2zM1013.68 992.45h2v2h-2zM1013.68 1024.08h2v2h-2zM1013.68 1055.72h2v2h-2zM1013.68 1087.36h2v2h-2zM1013.68 1119h2v2h-2zM1013.68 1150.63h2v2h-2zM1013.68 1182.27h2v2h-2zM1013.68 1213.91h2v2h-2zM1013.68 1245.54h2v2h-2zM1013.68 1277.18h2v2h-2zM1013.68 1308.82h2v2h-2zM1013.68 1340.45h2v2h-2zM1013.68 1372.09h2v2h-2zM1013.68 1403.73h2v2h-2zM1013.68 1435.37h2v2h-2zM1045.32 11.7h2v2h-2zM1045.32 43.34h2v2h-2zM1045.32 74.97h2v2h-2zM1045.32 106.61h2v2h-2zM1045.32 138.25h2v2h-2zM1045.32 169.88h2v2h-2zM1045.32 201.52h2v2h-2zM1045.32 233.16h2v2h-2zM1045.32 264.8h2v2h-2zM1045.32 296.43h2v2h-2zM1045.32 328.07h2v2h-2zM1045.32 359.71h2v2h-2zM1045.32 391.34h2v2h-2zM1045.32 422.98h2v2h-2zM1045.32 454.62h2v2h-2zM1045.32 486.25h2v2h-2zM1045.32 517.89h2v2h-2zM1045.32 549.53h2v2h-2zM1045.32 581.17h2v2h-2zM1045.32 612.8h2v2h-2zM1045.32 644.44h2v2h-2zM1045.32 676.08h2v2h-2zM1045.32 707.71h2v2h-2zM1045.32 739.35h2v2h-2zM1045.32 770.99h2v2h-2zM1045.32 802.62h2v2h-2zM1045.32 834.26h2v2h-2zM1045.32 865.9h2v2h-2zM1045.32 897.54h2v2h-2zM1045.32 929.17h2v2h-2zM1045.32 960.81h2v2h-2zM1045.32 992.45h2v2h-2zM1045.32 1024.08h2v2h-2zM1045.32 1055.72h2v2h-2zM1045.32 1087.36h2v2h-2zM1045.32 1119h2v2h-2zM1045.32 1150.63h2v2h-2zM1045.32 1182.27h2v2h-2zM1045.32 1213.91h2v2h-2zM1045.32 1245.54h2v2h-2zM1045.32 1277.18h2v2h-2zM1045.32 1308.82h2v2h-2zM1045.32 1340.45h2v2h-2zM1045.32 1372.09h2v2h-2zM1045.32 1403.73h2v2h-2zM1045.32 1435.37h2v2h-2zM1076.96 11.7h2v2h-2zM1076.96 43.34h2v2h-2zM1076.96 74.97h2v2h-2zM1076.96 106.61h2v2h-2zM1076.96 138.25h2v2h-2zM1076.96 169.88h2v2h-2zM1076.96 201.52h2v2h-2zM1076.96 233.16h2v2h-2zM1076.96 264.8h2v2h-2zM1076.96 296.43h2v2h-2zM1076.96 328.07h2v2h-2zM1076.96 359.71h2v2h-2zM1076.96 391.34h2v2h-2zM1076.96 422.98h2v2h-2zM1076.96 454.62h2v2h-2zM1076.96 486.25h2v2h-2zM1076.96 517.89h2v2h-2zM1076.96 549.53h2v2h-2zM1076.96 581.17h2v2h-2zM1076.96 612.8h2v2h-2zM1076.96 644.44h2v2h-2zM1076.96 676.08h2v2h-2zM1076.96 707.71h2v2h-2zM1076.96 739.35h2v2h-2zM1076.96 770.99h2v2h-2zM1076.96 802.62h2v2h-2zM1076.96 834.26h2v2h-2zM1076.96 865.9h2v2h-2zM1076.96 897.54h2v2h-2zM1076.96 929.17h2v2h-2zM1076.96 960.81h2v2h-2zM1076.96 992.45h2v2h-2zM1076.96 1024.08h2v2h-2zM1076.96 1055.72h2v2h-2zM1076.96 1087.36h2v2h-2zM1076.96 1119h2v2h-2zM1076.96 1150.63h2v2h-2zM1076.96 1182.27h2v2h-2zM1076.96 1213.91h2v2h-2zM1076.96 1245.54h2v2h-2zM1076.96 1277.18h2v2h-2zM1076.96 1308.82h2v2h-2zM1076.96 1340.45h2v2h-2zM1076.96 1372.09h2v2h-2zM1076.96 1403.73h2v2h-2zM1076.96 1435.37h2v2h-2zM1108.6 11.7h2v2h-2zM1108.6 43.34h2v2h-2zM1108.6 74.97h2v2h-2zM1108.6 106.61h2v2h-2zM1108.6 138.25h2v2h-2zM1108.6 169.88h2v2h-2zM1108.6 201.52h2v2h-2zM1108.6 233.16h2v2h-2zM1108.6 264.8h2v2h-2zM1108.6 296.43h2v2h-2zM1108.6 328.07h2v2h-2zM1108.6 359.71h2v2h-2zM1108.6 391.34h2v2h-2zM1108.6 422.98h2v2h-2zM1108.6 454.62h2v2h-2zM1108.6 486.25h2v2h-2zM1108.6 517.89h2v2h-2zM1108.6 549.53h2v2h-2zM1108.6 581.17h2v2h-2zM1108.6 612.8h2v2h-2zM1108.6 644.44h2v2h-2zM1108.6 676.08h2v2h-2zM1108.6 707.71h2v2h-2zM1108.6 739.35h2v2h-2zM1108.6 770.99h2v2h-2zM1108.6 802.62h2v2h-2zM1108.6 834.26h2v2h-2zM1108.6 865.9h2v2h-2zM1108.6 897.54h2v2h-2zM1108.6 929.17h2v2h-2zM1108.6 960.81h2v2h-2zM1108.6 992.45h2v2h-2zM1108.6 1024.08h2v2h-2zM1108.6 1055.72h2v2h-2zM1108.6 1087.36h2v2h-2zM1108.6 1119h2v2h-2zM1108.6 1150.63h2v2h-2zM1108.6 1182.27h2v2h-2zM1108.6 1213.91h2v2h-2zM1108.6 1245.54h2v2h-2zM1108.6 1277.18h2v2h-2zM1108.6 1308.82h2v2h-2zM1108.6 1340.45h2v2h-2zM1108.6 1372.09h2v2h-2zM1108.6 1403.73h2v2h-2zM1108.6 1435.37h2v2h-2zM1140.23 11.7h2v2h-2zM1140.23 43.34h2v2h-2zM1140.23 74.97h2v2h-2zM1140.23 106.61h2v2h-2zM1140.23 138.25h2v2h-2zM1140.23 169.88h2v2h-2zM1140.23 201.52h2v2h-2zM1140.23 233.16h2v2h-2zM1140.23 264.8h2v2h-2zM1140.23 296.43h2v2h-2zM1140.23 328.07h2v2h-2zM1140.23 359.71h2v2h-2zM1140.23 391.34h2v2h-2zM1140.23 422.98h2v2h-2zM1140.23 454.62h2v2h-2zM1140.23 486.25h2v2h-2zM1140.23 517.89h2v2h-2zM1140.23 549.53h2v2h-2zM1140.23 581.17h2v2h-2zM1140.23 612.8h2v2h-2zM1140.23 644.44h2v2h-2zM1140.23 676.08h2v2h-2zM1140.23 707.71h2v2h-2zM1140.23 739.35h2v2h-2zM1140.23 770.99h2v2h-2zM1140.23 802.62h2v2h-2zM1140.23 834.26h2v2h-2zM1140.23 865.9h2v2h-2zM1140.23 897.54h2v2h-2zM1140.23 929.17h2v2h-2zM1140.23 960.81h2v2h-2zM1140.23 992.45h2v2h-2zM1140.23 1024.08h2v2h-2zM1140.23 1055.72h2v2h-2zM1140.23 1087.36h2v2h-2zM1140.23 1119h2v2h-2zM1140.23 1150.63h2v2h-2zM1140.23 1182.27h2v2h-2zM1140.23 1213.91h2v2h-2zM1140.23 1245.54h2v2h-2zM1140.23 1277.18h2v2h-2zM1140.23 1308.82h2v2h-2zM1140.23 1340.45h2v2h-2zM1140.23 1372.09h2v2h-2zM1140.23 1403.73h2v2h-2zM1140.23 1435.37h2v2h-2zM1171.87 11.7h2v2h-2zM1171.87 43.34h2v2h-2zM1171.87 74.97h2v2h-2zM1171.87 106.61h2v2h-2zM1171.87 138.25h2v2h-2zM1171.87 169.88h2v2h-2zM1171.87 201.52h2v2h-2zM1171.87 233.16h2v2h-2zM1171.87 264.8h2v2h-2zM1171.87 296.43h2v2h-2zM1171.87 328.07h2v2h-2zM1171.87 359.71h2v2h-2zM1171.87 391.34h2v2h-2zM1171.87 422.98h2v2h-2zM1171.87 454.62h2v2h-2zM1171.87 486.25h2v2h-2zM1171.87 517.89h2v2h-2zM1171.87 549.53h2v2h-2zM1171.87 581.17h2v2h-2zM1171.87 612.8h2v2h-2zM1171.87 644.44h2v2h-2zM1171.87 676.08h2v2h-2zM1171.87 707.71h2v2h-2zM1171.87 739.35h2v2h-2zM1171.87 770.99h2v2h-2zM1171.87 802.62h2v2h-2zM1171.87 834.26h2v2h-2zM1171.87 865.9h2v2h-2zM1171.87 897.54h2v2h-2zM1171.87 929.17h2v2h-2zM1171.87 960.81h2v2h-2zM1171.87 992.45h2v2h-2zM1171.87 1024.08h2v2h-2zM1171.87 1055.72h2v2h-2zM1171.87 1087.36h2v2h-2zM1171.87 1119h2v2h-2zM1171.87 1150.63h2v2h-2zM1171.87 1182.27h2v2h-2zM1171.87 1213.91h2v2h-2zM1171.87 1245.54h2v2h-2zM1171.87 1277.18h2v2h-2zM1171.87 1308.82h2v2h-2zM1171.87 1340.45h2v2h-2zM1171.87 1372.09h2v2h-2zM1171.87 1403.73h2v2h-2zM1171.87 1435.37h2v2h-2zM1203.51 11.7h2v2h-2zM1203.51 43.34h2v2h-2zM1203.51 74.97h2v2h-2zM1203.51 106.61h2v2h-2zM1203.51 138.25h2v2h-2zM1203.51 169.88h2v2h-2zM1203.51 201.52h2v2h-2zM1203.51 233.16h2v2h-2zM1203.51 264.8h2v2h-2zM1203.51 296.43h2v2h-2zM1203.51 328.07h2v2h-2zM1203.51 359.71h2v2h-2zM1203.51 391.34h2v2h-2zM1203.51 422.98h2v2h-2zM1203.51 454.62h2v2h-2zM1203.51 486.25h2v2h-2zM1203.51 517.89h2v2h-2zM1203.51 549.53h2v2h-2zM1203.51 581.17h2v2h-2zM1203.51 612.8h2v2h-2zM1203.51 644.44h2v2h-2zM1203.51 676.08h2v2h-2zM1203.51 707.71h2v2h-2zM1203.51 739.35h2v2h-2zM1203.51 770.99h2v2h-2zM1203.51 802.62h2v2h-2zM1203.51 834.26h2v2h-2zM1203.51 865.9h2v2h-2zM1203.51 897.54h2v2h-2zM1203.51 929.17h2v2h-2zM1203.51 960.81h2v2h-2zM1203.51 992.45h2v2h-2zM1203.51 1024.08h2v2h-2zM1203.51 1055.72h2v2h-2zM1203.51 1087.36h2v2h-2zM1203.51 1119h2v2h-2zM1203.51 1150.63h2v2h-2zM1203.51 1182.27h2v2h-2zM1203.51 1213.91h2v2h-2zM1203.51 1245.54h2v2h-2zM1203.51 1277.18h2v2h-2zM1203.51 1308.82h2v2h-2zM1203.51 1340.45h2v2h-2zM1203.51 1372.09h2v2h-2zM1203.51 1403.73h2v2h-2zM1203.51 1435.37h2v2h-2zM1235.14 11.7h2v2h-2zM1235.14 43.34h2v2h-2zM1235.14 74.97h2v2h-2zM1235.14 106.61h2v2h-2zM1235.14 138.25h2v2h-2zM1235.14 169.88h2v2h-2zM1235.14 201.52h2v2h-2zM1235.14 233.16h2v2h-2zM1235.14 264.8h2v2h-2zM1235.14 296.43h2v2h-2zM1235.14 328.07h2v2h-2zM1235.14 359.71h2v2h-2zM1235.14 391.34h2v2h-2zM1235.14 422.98h2v2h-2zM1235.14 454.62h2v2h-2zM1235.14 486.25h2v2h-2zM1235.14 517.89h2v2h-2zM1235.14 549.53h2v2h-2zM1235.14 581.17h2v2h-2zM1235.14 612.8h2v2h-2zM1235.14 644.44h2v2h-2zM1235.14 676.08h2v2h-2zM1235.14 707.71h2v2h-2zM1235.14 739.35h2v2h-2zM1235.14 770.99h2v2h-2zM1235.14 802.62h2v2h-2zM1235.14 834.26h2v2h-2zM1235.14 865.9h2v2h-2zM1235.14 897.54h2v2h-2zM1235.14 929.17h2v2h-2zM1235.14 960.81h2v2h-2zM1235.14 992.45h2v2h-2zM1235.14 1024.08h2v2h-2zM1235.14 1055.72h2v2h-2zM1235.14 1087.36h2v2h-2zM1235.14 1119h2v2h-2zM1235.14 1150.63h2v2h-2zM1235.14 1182.27h2v2h-2zM1235.14 1213.91h2v2h-2zM1235.14 1245.54h2v2h-2zM1235.14 1277.18h2v2h-2zM1235.14 1308.82h2v2h-2zM1235.14 1340.45h2v2h-2zM1235.14 1372.09h2v2h-2zM1235.14 1403.73h2v2h-2zM1235.14 1435.37h2v2h-2zM1266.78 11.7h2v2h-2zM1266.78 43.34h2v2h-2zM1266.78 74.97h2v2h-2zM1266.78 106.61h2v2h-2zM1266.78 138.25h2v2h-2zM1266.78 169.88h2v2h-2zM1266.78 201.52h2v2h-2zM1266.78 233.16h2v2h-2zM1266.78 264.8h2v2h-2zM1266.78 296.43h2v2h-2zM1266.78 328.07h2v2h-2zM1266.78 359.71h2v2h-2zM1266.78 391.34h2v2h-2zM1266.78 422.98h2v2h-2zM1266.78 454.62h2v2h-2zM1266.78 486.25h2v2h-2zM1266.78 517.89h2v2h-2zM1266.78 549.53h2v2h-2zM1266.78 581.17h2v2h-2zM1266.78 612.8h2v2h-2zM1266.78 644.44h2v2h-2zM1266.78 676.08h2v2h-2zM1266.78 707.71h2v2h-2zM1266.78 739.35h2v2h-2zM1266.78 770.99h2v2h-2zM1266.78 802.62h2v2h-2zM1266.78 834.26h2v2h-2zM1266.78 865.9h2v2h-2zM1266.78 897.54h2v2h-2zM1266.78 929.17h2v2h-2zM1266.78 960.81h2v2h-2zM1266.78 992.45h2v2h-2zM1266.78 1024.08h2v2h-2zM1266.78 1055.72h2v2h-2zM1266.78 1087.36h2v2h-2zM1266.78 1119h2v2h-2zM1266.78 1150.63h2v2h-2zM1266.78 1182.27h2v2h-2zM1266.78 1213.91h2v2h-2zM1266.78 1245.54h2v2h-2zM1266.78 1277.18h2v2h-2zM1266.78 1308.82h2v2h-2zM1266.78 1340.45h2v2h-2zM1266.78 1372.09h2v2h-2zM1266.78 1403.73h2v2h-2zM1266.78 1435.37h2v2h-2zM1298.42 11.7h2v2h-2zM1298.42 43.34h2v2h-2zM1298.42 74.97h2v2h-2zM1298.42 106.61h2v2h-2zM1298.42 138.25h2v2h-2zM1298.42 169.88h2v2h-2zM1298.42 201.52h2v2h-2zM1298.42 233.16h2v2h-2zM1298.42 264.8h2v2h-2zM1298.42 296.43h2v2h-2zM1298.42 328.07h2v2h-2zM1298.42 359.71h2v2h-2zM1298.42 391.34h2v2h-2zM1298.42 422.98h2v2h-2zM1298.42 454.62h2v2h-2zM1298.42 486.25h2v2h-2zM1298.42 517.89h2v2h-2zM1298.42 549.53h2v2h-2zM1298.42 581.17h2v2h-2zM1298.42 612.8h2v2h-2zM1298.42 644.44h2v2h-2zM1298.42 676.08h2v2h-2zM1298.42 707.71h2v2h-2zM1298.42 739.35h2v2h-2zM1298.42 770.99h2v2h-2zM1298.42 802.62h2v2h-2zM1298.42 834.26h2v2h-2zM1298.42 865.9h2v2h-2zM1298.42 897.54h2v2h-2zM1298.42 929.17h2v2h-2zM1298.42 960.81h2v2h-2zM1298.42 992.45h2v2h-2zM1298.42 1024.08h2v2h-2zM1298.42 1055.72h2v2h-2zM1298.42 1087.36h2v2h-2zM1298.42 1119h2v2h-2zM1298.42 1150.63h2v2h-2zM1298.42 1182.27h2v2h-2zM1298.42 1213.91h2v2h-2zM1298.42 1245.54h2v2h-2zM1298.42 1277.18h2v2h-2zM1298.42 1308.82h2v2h-2zM1298.42 1340.45h2v2h-2zM1298.42 1372.09h2v2h-2zM1298.42 1403.73h2v2h-2zM1298.42 1435.37h2v2h-2zM1330.05 11.7h2v2h-2zM1330.05 43.34h2v2h-2zM1330.05 74.97h2v2h-2zM1330.05 106.61h2v2h-2zM1330.05 138.25h2v2h-2zM1330.05 169.88h2v2h-2zM1330.05 201.52h2v2h-2zM1330.05 233.16h2v2h-2zM1330.05 264.8h2v2h-2zM1330.05 296.43h2v2h-2zM1330.05 328.07h2v2h-2zM1330.05 359.71h2v2h-2zM1330.05 391.34h2v2h-2zM1330.05 422.98h2v2h-2zM1330.05 454.62h2v2h-2zM1330.05 486.25h2v2h-2zM1330.05 517.89h2v2h-2zM1330.05 549.53h2v2h-2zM1330.05 581.17h2v2h-2zM1330.05 612.8h2v2h-2zM1330.05 644.44h2v2h-2zM1330.05 676.08h2v2h-2zM1330.05 707.71h2v2h-2zM1330.05 739.35h2v2h-2zM1330.05 770.99h2v2h-2zM1330.05 802.62h2v2h-2zM1330.05 834.26h2v2h-2zM1330.05 865.9h2v2h-2zM1330.05 897.54h2v2h-2zM1330.05 929.17h2v2h-2zM1330.05 960.81h2v2h-2zM1330.05 992.45h2v2h-2zM1330.05 1024.08h2v2h-2zM1330.05 1055.72h2v2h-2zM1330.05 1087.36h2v2h-2zM1330.05 1119h2v2h-2zM1330.05 1150.63h2v2h-2zM1330.05 1182.27h2v2h-2zM1330.05 1213.91h2v2h-2zM1330.05 1245.54h2v2h-2zM1330.05 1277.18h2v2h-2zM1330.05 1308.82h2v2h-2zM1330.05 1340.45h2v2h-2zM1330.05 1372.09h2v2h-2zM1330.05 1403.73h2v2h-2zM1330.05 1435.37h2v2h-2zM1361.69 11.7h2v2h-2zM1361.69 43.34h2v2h-2zM1361.69 74.97h2v2h-2zM1361.69 106.61h2v2h-2zM1361.69 138.25h2v2h-2zM1361.69 169.88h2v2h-2zM1361.69 201.52h2v2h-2zM1361.69 233.16h2v2h-2zM1361.69 264.8h2v2h-2zM1361.69 296.43h2v2h-2zM1361.69 328.07h2v2h-2zM1361.69 359.71h2v2h-2zM1361.69 391.34h2v2h-2zM1361.69 422.98h2v2h-2zM1361.69 454.62h2v2h-2zM1361.69 486.25h2v2h-2zM1361.69 517.89h2v2h-2zM1361.69 549.53h2v2h-2zM1361.69 581.17h2v2h-2zM1361.69 612.8h2v2h-2zM1361.69 644.44h2v2h-2zM1361.69 676.08h2v2h-2zM1361.69 707.71h2v2h-2zM1361.69 739.35h2v2h-2zM1361.69 770.99h2v2h-2zM1361.69 802.62h2v2h-2zM1361.69 834.26h2v2h-2zM1361.69 865.9h2v2h-2zM1361.69 897.54h2v2h-2zM1361.69 929.17h2v2h-2zM1361.69 960.81h2v2h-2zM1361.69 992.45h2v2h-2zM1361.69 1024.08h2v2h-2zM1361.69 1055.72h2v2h-2zM1361.69 1087.36h2v2h-2zM1361.69 1119h2v2h-2zM1361.69 1150.63h2v2h-2zM1361.69 1182.27h2v2h-2zM1361.69 1213.91h2v2h-2zM1361.69 1245.54h2v2h-2zM1361.69 1277.18h2v2h-2zM1361.69 1308.82h2v2h-2zM1361.69 1340.45h2v2h-2zM1361.69 1372.09h2v2h-2zM1361.69 1403.73h2v2h-2zM1361.69 1435.37h2v2h-2zM1393.33 11.7h2v2h-2zM1393.33 43.34h2v2h-2zM1393.33 74.97h2v2h-2zM1393.33 106.61h2v2h-2zM1393.33 138.25h2v2h-2zM1393.33 169.88h2v2h-2zM1393.33 201.52h2v2h-2zM1393.33 233.16h2v2h-2zM1393.33 264.8h2v2h-2zM1393.33 296.43h2v2h-2zM1393.33 328.07h2v2h-2zM1393.33 359.71h2v2h-2zM1393.33 391.34h2v2h-2zM1393.33 422.98h2v2h-2zM1393.33 454.62h2v2h-2zM1393.33 486.25h2v2h-2zM1393.33 517.89h2v2h-2zM1393.33 549.53h2v2h-2zM1393.33 581.17h2v2h-2zM1393.33 612.8h2v2h-2zM1393.33 644.44h2v2h-2zM1393.33 676.08h2v2h-2zM1393.33 707.71h2v2h-2zM1393.33 739.35h2v2h-2zM1393.33 770.99h2v2h-2zM1393.33 802.62h2v2h-2zM1393.33 834.26h2v2h-2zM1393.33 865.9h2v2h-2zM1393.33 897.54h2v2h-2zM1393.33 929.17h2v2h-2zM1393.33 960.81h2v2h-2zM1393.33 992.45h2v2h-2zM1393.33 1024.08h2v2h-2zM1393.33 1055.72h2v2h-2zM1393.33 1087.36h2v2h-2zM1393.33 1119h2v2h-2zM1393.33 1150.63h2v2h-2zM1393.33 1182.27h2v2h-2zM1393.33 1213.91h2v2h-2zM1393.33 1245.54h2v2h-2zM1393.33 1277.18h2v2h-2zM1393.33 1308.82h2v2h-2zM1393.33 1340.45h2v2h-2zM1393.33 1372.09h2v2h-2zM1393.33 1403.73h2v2h-2zM1393.33 1435.37h2v2h-2zM1424.96 11.7h2v2h-2zM1424.96 43.34h2v2h-2zM1424.96 74.97h2v2h-2zM1424.96 106.61h2v2h-2zM1424.96 138.25h2v2h-2zM1424.96 169.88h2v2h-2zM1424.96 201.52h2v2h-2zM1424.96 233.16h2v2h-2zM1424.96 264.8h2v2h-2zM1424.96 296.43h2v2h-2zM1424.96 328.07h2v2h-2zM1424.96 359.71h2v2h-2zM1424.96 391.34h2v2h-2zM1424.96 422.98h2v2h-2zM1424.96 454.62h2v2h-2zM1424.96 486.25h2v2h-2zM1424.96 517.89h2v2h-2zM1424.96 549.53h2v2h-2zM1424.96 581.17h2v2h-2zM1424.96 612.8h2v2h-2zM1424.96 644.44h2v2h-2zM1424.96 676.08h2v2h-2zM1424.96 707.71h2v2h-2zM1424.96 739.35h2v2h-2zM1424.96 770.99h2v2h-2zM1424.96 802.62h2v2h-2zM1424.96 834.26h2v2h-2zM1424.96 865.9h2v2h-2zM1424.96 897.54h2v2h-2zM1424.96 929.17h2v2h-2zM1424.96 960.81h2v2h-2zM1424.96 992.45h2v2h-2zM1424.96 1024.08h2v2h-2zM1424.96 1055.72h2v2h-2zM1424.96 1087.36h2v2h-2zM1424.96 1119h2v2h-2zM1424.96 1150.63h2v2h-2zM1424.96 1182.27h2v2h-2zM1424.96 1213.91h2v2h-2zM1424.96 1245.54h2v2h-2zM1424.96 1277.18h2v2h-2zM1424.96 1308.82h2v2h-2zM1424.96 1340.45h2v2h-2zM1424.96 1372.09h2v2h-2zM1424.96 1403.73h2v2h-2zM1424.96 1435.37h2v2h-2zM1456.6 11.7h2v2h-2zM1456.6 43.34h2v2h-2zM1456.6 74.97h2v2h-2zM1456.6 106.61h2v2h-2zM1456.6 138.25h2v2h-2zM1456.6 169.88h2v2h-2zM1456.6 201.52h2v2h-2zM1456.6 233.16h2v2h-2zM1456.6 264.8h2v2h-2zM1456.6 296.43h2v2h-2zM1456.6 328.07h2v2h-2zM1456.6 359.71h2v2h-2zM1456.6 391.34h2v2h-2zM1456.6 422.98h2v2h-2zM1456.6 454.62h2v2h-2zM1456.6 486.25h2v2h-2zM1456.6 517.89h2v2h-2zM1456.6 549.53h2v2h-2zM1456.6 581.17h2v2h-2zM1456.6 612.8h2v2h-2zM1456.6 644.44h2v2h-2zM1456.6 676.08h2v2h-2zM1456.6 707.71h2v2h-2zM1456.6 739.35h2v2h-2zM1456.6 770.99h2v2h-2zM1456.6 802.62h2v2h-2zM1456.6 834.26h2v2h-2zM1456.6 865.9h2v2h-2zM1456.6 897.54h2v2h-2zM1456.6 929.17h2v2h-2zM1456.6 960.81h2v2h-2zM1456.6 992.45h2v2h-2zM1456.6 1024.08h2v2h-2zM1456.6 1055.72h2v2h-2zM1456.6 1087.36h2v2h-2zM1456.6 1119h2v2h-2zM1456.6 1150.63h2v2h-2zM1456.6 1182.27h2v2h-2zM1456.6 1213.91h2v2h-2zM1456.6 1245.54h2v2h-2zM1456.6 1277.18h2v2h-2zM1456.6 1308.82h2v2h-2zM1456.6 1340.45h2v2h-2zM1456.6 1372.09h2v2h-2zM1456.6 1403.73h2v2h-2zM1456.6 1435.37h2v2h-2zM1488.24 11.7h2v2h-2zM1488.24 43.34h2v2h-2zM1488.24 74.97h2v2h-2zM1488.24 106.61h2v2h-2zM1488.24 138.25h2v2h-2zM1488.24 169.88h2v2h-2zM1488.24 201.52h2v2h-2zM1488.24 233.16h2v2h-2zM1488.24 264.8h2v2h-2zM1488.24 296.43h2v2h-2zM1488.24 328.07h2v2h-2zM1488.24 359.71h2v2h-2zM1488.24 391.34h2v2h-2zM1488.24 422.98h2v2h-2zM1488.24 454.62h2v2h-2zM1488.24 486.25h2v2h-2zM1488.24 517.89h2v2h-2zM1488.24 549.53h2v2h-2zM1488.24 581.17h2v2h-2zM1488.24 612.8h2v2h-2zM1488.24 644.44h2v2h-2zM1488.24 676.08h2v2h-2zM1488.24 707.71h2v2h-2zM1488.24 739.35h2v2h-2zM1488.24 770.99h2v2h-2zM1488.24 802.62h2v2h-2zM1488.24 834.26h2v2h-2zM1488.24 865.9h2v2h-2zM1488.24 897.54h2v2h-2zM1488.24 929.17h2v2h-2zM1488.24 960.81h2v2h-2zM1488.24 992.45h2v2h-2zM1488.24 1024.08h2v2h-2zM1488.24 1055.72h2v2h-2zM1488.24 1087.36h2v2h-2zM1488.24 1119h2v2h-2zM1488.24 1150.63h2v2h-2zM1488.24 1182.27h2v2h-2zM1488.24 1213.91h2v2h-2zM1488.24 1245.54h2v2h-2zM1488.24 1277.18h2v2h-2zM1488.24 1308.82h2v2h-2zM1488.24 1340.45h2v2h-2zM1488.24 1372.09h2v2h-2zM1488.24 1403.73h2v2h-2zM1488.24 1435.37h2v2h-2zM1519.88 11.7h2v2h-2zM1519.88 43.34h2v2h-2zM1519.88 74.97h2v2h-2zM1519.88 106.61h2v2h-2zM1519.88 138.25h2v2h-2zM1519.88 169.88h2v2h-2zM1519.88 201.52h2v2h-2zM1519.88 233.16h2v2h-2zM1519.88 264.8h2v2h-2zM1519.88 296.43h2v2h-2zM1519.88 328.07h2v2h-2zM1519.88 359.71h2v2h-2zM1519.88 391.34h2v2h-2zM1519.88 422.98h2v2h-2zM1519.88 454.62h2v2h-2zM1519.88 486.25h2v2h-2zM1519.88 517.89h2v2h-2zM1519.88 549.53h2v2h-2zM1519.88 581.17h2v2h-2zM1519.88 612.8h2v2h-2zM1519.88 644.44h2v2h-2zM1519.88 676.08h2v2h-2zM1519.88 707.71h2v2h-2zM1519.88 739.35h2v2h-2zM1519.88 770.99h2v2h-2zM1519.88 802.62h2v2h-2zM1519.88 834.26h2v2h-2zM1519.88 865.9h2v2h-2zM1519.88 897.54h2v2h-2zM1519.88 929.17h2v2h-2zM1519.88 960.81h2v2h-2zM1519.88 992.45h2v2h-2zM1519.88 1024.08h2v2h-2zM1519.88 1055.72h2v2h-2zM1519.88 1087.36h2v2h-2zM1519.88 1119h2v2h-2zM1519.88 1150.63h2v2h-2zM1519.88 1182.27h2v2h-2zM1519.88 1213.91h2v2h-2zM1519.88 1245.54h2v2h-2zM1519.88 1277.18h2v2h-2zM1519.88 1308.82h2v2h-2zM1519.88 1340.45h2v2h-2zM1519.88 1372.09h2v2h-2zM1519.88 1403.73h2v2h-2zM1519.88 1435.37h2v2h-2zM1551.51 11.7h2v2h-2zM1551.51 43.34h2v2h-2zM1551.51 74.97h2v2h-2zM1551.51 106.61h2v2h-2zM1551.51 138.25h2v2h-2zM1551.51 169.88h2v2h-2zM1551.51 201.52h2v2h-2zM1551.51 233.16h2v2h-2zM1551.51 264.8h2v2h-2zM1551.51 296.43h2v2h-2zM1551.51 328.07h2v2h-2zM1551.51 359.71h2v2h-2zM1551.51 391.34h2v2h-2zM1551.51 422.98h2v2h-2zM1551.51 454.62h2v2h-2zM1551.51 486.25h2v2h-2zM1551.51 517.89h2v2h-2zM1551.51 549.53h2v2h-2zM1551.51 581.17h2v2h-2zM1551.51 612.8h2v2h-2zM1551.51 644.44h2v2h-2zM1551.51 676.08h2v2h-2zM1551.51 707.71h2v2h-2zM1551.51 739.35h2v2h-2zM1551.51 770.99h2v2h-2zM1551.51 802.62h2v2h-2zM1551.51 834.26h2v2h-2zM1551.51 865.9h2v2h-2zM1551.51 897.54h2v2h-2zM1551.51 929.17h2v2h-2zM1551.51 960.81h2v2h-2zM1551.51 992.45h2v2h-2zM1551.51 1024.08h2v2h-2zM1551.51 1055.72h2v2h-2zM1551.51 1087.36h2v2h-2zM1551.51 1119h2v2h-2zM1551.51 1150.63h2v2h-2zM1551.51 1182.27h2v2h-2zM1551.51 1213.91h2v2h-2zM1551.51 1245.54h2v2h-2zM1551.51 1277.18h2v2h-2zM1551.51 1308.82h2v2h-2zM1551.51 1340.45h2v2h-2zM1551.51 1372.09h2v2h-2zM1551.51 1403.73h2v2h-2zM1551.51 1435.37h2v2h-2zM1583.15 11.7h2v2h-2zM1583.15 43.34h2v2h-2zM1583.15 74.97h2v2h-2zM1583.15 106.61h2v2h-2zM1583.15 138.25h2v2h-2zM1583.15 169.88h2v2h-2zM1583.15 201.52h2v2h-2zM1583.15 233.16h2v2h-2zM1583.15 264.8h2v2h-2zM1583.15 296.43h2v2h-2zM1583.15 328.07h2v2h-2zM1583.15 359.71h2v2h-2zM1583.15 391.34h2v2h-2zM1583.15 422.98h2v2h-2zM1583.15 454.62h2v2h-2zM1583.15 486.25h2v2h-2zM1583.15 517.89h2v2h-2zM1583.15 549.53h2v2h-2zM1583.15 581.17h2v2h-2zM1583.15 612.8h2v2h-2zM1583.15 644.44h2v2h-2zM1583.15 676.08h2v2h-2zM1583.15 707.71h2v2h-2zM1583.15 739.35h2v2h-2zM1583.15 770.99h2v2h-2zM1583.15 802.62h2v2h-2zM1583.15 834.26h2v2h-2zM1583.15 865.9h2v2h-2zM1583.15 897.54h2v2h-2zM1583.15 929.17h2v2h-2zM1583.15 960.81h2v2h-2zM1583.15 992.45h2v2h-2zM1583.15 1024.08h2v2h-2zM1583.15 1055.72h2v2h-2zM1583.15 1087.36h2v2h-2zM1583.15 1119h2v2h-2zM1583.15 1150.63h2v2h-2zM1583.15 1182.27h2v2h-2zM1583.15 1213.91h2v2h-2zM1583.15 1245.54h2v2h-2zM1583.15 1277.18h2v2h-2zM1583.15 1308.82h2v2h-2zM1583.15 1340.45h2v2h-2zM1583.15 1372.09h2v2h-2zM1583.15 1403.73h2v2h-2zM1583.15 1435.37h2v2h-2zM1614.79 11.7h2v2h-2zM1614.79 43.34h2v2h-2zM1614.79 74.97h2v2h-2zM1614.79 106.61h2v2h-2zM1614.79 138.25h2v2h-2zM1614.79 169.88h2v2h-2zM1614.79 201.52h2v2h-2zM1614.79 233.16h2v2h-2zM1614.79 264.8h2v2h-2zM1614.79 296.43h2v2h-2zM1614.79 328.07h2v2h-2zM1614.79 359.71h2v2h-2zM1614.79 391.34h2v2h-2zM1614.79 422.98h2v2h-2zM1614.79 454.62h2v2h-2zM1614.79 486.25h2v2h-2zM1614.79 517.89h2v2h-2zM1614.79 549.53h2v2h-2zM1614.79 581.17h2v2h-2zM1614.79 612.8h2v2h-2zM1614.79 644.44h2v2h-2zM1614.79 676.08h2v2h-2zM1614.79 707.71h2v2h-2zM1614.79 739.35h2v2h-2zM1614.79 770.99h2v2h-2zM1614.79 802.62h2v2h-2zM1614.79 834.26h2v2h-2zM1614.79 865.9h2v2h-2zM1614.79 897.54h2v2h-2zM1614.79 929.17h2v2h-2zM1614.79 960.81h2v2h-2zM1614.79 992.45h2v2h-2zM1614.79 1024.08h2v2h-2zM1614.79 1055.72h2v2h-2zM1614.79 1087.36h2v2h-2zM1614.79 1119h2v2h-2zM1614.79 1150.63h2v2h-2zM1614.79 1182.27h2v2h-2zM1614.79 1213.91h2v2h-2zM1614.79 1245.54h2v2h-2zM1614.79 1277.18h2v2h-2zM1614.79 1308.82h2v2h-2zM1614.79 1340.45h2v2h-2zM1614.79 1372.09h2v2h-2zM1614.79 1403.73h2v2h-2zM1614.79 1435.37h2v2h-2zM1646.42 11.7h2v2h-2zM1646.42 43.34h2v2h-2zM1646.42 74.97h2v2h-2zM1646.42 106.61h2v2h-2zM1646.42 138.25h2v2h-2zM1646.42 169.88h2v2h-2zM1646.42 201.52h2v2h-2zM1646.42 233.16h2v2h-2zM1646.42 264.8h2v2h-2zM1646.42 296.43h2v2h-2zM1646.42 328.07h2v2h-2zM1646.42 359.71h2v2h-2zM1646.42 391.34h2v2h-2zM1646.42 422.98h2v2h-2zM1646.42 454.62h2v2h-2zM1646.42 486.25h2v2h-2zM1646.42 517.89h2v2h-2zM1646.42 549.53h2v2h-2zM1646.42 581.17h2v2h-2zM1646.42 612.8h2v2h-2zM1646.42 644.44h2v2h-2zM1646.42 676.08h2v2h-2zM1646.42 707.71h2v2h-2zM1646.42 739.35h2v2h-2zM1646.42 770.99h2v2h-2zM1646.42 802.62h2v2h-2zM1646.42 834.26h2v2h-2zM1646.42 865.9h2v2h-2zM1646.42 897.54h2v2h-2zM1646.42 929.17h2v2h-2zM1646.42 960.81h2v2h-2zM1646.42 992.45h2v2h-2zM1646.42 1024.08h2v2h-2zM1646.42 1055.72h2v2h-2zM1646.42 1087.36h2v2h-2zM1646.42 1119h2v2h-2zM1646.42 1150.63h2v2h-2zM1646.42 1182.27h2v2h-2zM1646.42 1213.91h2v2h-2zM1646.42 1245.54h2v2h-2zM1646.42 1277.18h2v2h-2zM1646.42 1308.82h2v2h-2zM1646.42 1340.45h2v2h-2zM1646.42 1372.09h2v2h-2zM1646.42 1403.73h2v2h-2zM1646.42 1435.37h2v2h-2zM1678.06 11.7h2v2h-2zM1678.06 43.34h2v2h-2zM1678.06 74.97h2v2h-2zM1678.06 106.61h2v2h-2zM1678.06 138.25h2v2h-2zM1678.06 169.88h2v2h-2zM1678.06 201.52h2v2h-2zM1678.06 233.16h2v2h-2zM1678.06 264.8h2v2h-2zM1678.06 296.43h2v2h-2zM1678.06 328.07h2v2h-2zM1678.06 359.71h2v2h-2zM1678.06 391.34h2v2h-2zM1678.06 422.98h2v2h-2zM1678.06 454.62h2v2h-2zM1678.06 486.25h2v2h-2zM1678.06 517.89h2v2h-2zM1678.06 549.53h2v2h-2zM1678.06 581.17h2v2h-2zM1678.06 612.8h2v2h-2zM1678.06 644.44h2v2h-2zM1678.06 676.08h2v2h-2zM1678.06 707.71h2v2h-2zM1678.06 739.35h2v2h-2zM1678.06 770.99h2v2h-2zM1678.06 802.62h2v2h-2zM1678.06 834.26h2v2h-2zM1678.06 865.9h2v2h-2zM1678.06 897.54h2v2h-2zM1678.06 929.17h2v2h-2zM1678.06 960.81h2v2h-2zM1678.06 992.45h2v2h-2zM1678.06 1024.08h2v2h-2zM1678.06 1055.72h2v2h-2zM1678.06 1087.36h2v2h-2zM1678.06 1119h2v2h-2zM1678.06 1150.63h2v2h-2zM1678.06 1182.27h2v2h-2zM1678.06 1213.91h2v2h-2zM1678.06 1245.54h2v2h-2zM1678.06 1277.18h2v2h-2zM1678.06 1308.82h2v2h-2zM1678.06 1340.45h2v2h-2zM1678.06 1372.09h2v2h-2zM1678.06 1403.73h2v2h-2zM1678.06 1435.37h2v2h-2zM1709.7 11.7h2v2h-2zM1709.7 43.34h2v2h-2zM1709.7 74.97h2v2h-2zM1709.7 106.61h2v2h-2zM1709.7 138.25h2v2h-2zM1709.7 169.88h2v2h-2zM1709.7 201.52h2v2h-2zM1709.7 233.16h2v2h-2zM1709.7 264.8h2v2h-2zM1709.7 296.43h2v2h-2zM1709.7 328.07h2v2h-2zM1709.7 359.71h2v2h-2zM1709.7 391.34h2v2h-2zM1709.7 422.98h2v2h-2zM1709.7 454.62h2v2h-2zM1709.7 486.25h2v2h-2zM1709.7 517.89h2v2h-2zM1709.7 549.53h2v2h-2zM1709.7 581.17h2v2h-2zM1709.7 612.8h2v2h-2zM1709.7 644.44h2v2h-2zM1709.7 676.08h2v2h-2zM1709.7 707.71h2v2h-2zM1709.7 739.35h2v2h-2zM1709.7 770.99h2v2h-2zM1709.7 802.62h2v2h-2zM1709.7 834.26h2v2h-2zM1709.7 865.9h2v2h-2zM1709.7 897.54h2v2h-2zM1709.7 929.17h2v2h-2zM1709.7 960.81h2v2h-2zM1709.7 992.45h2v2h-2zM1709.7 1024.08h2v2h-2zM1709.7 1055.72h2v2h-2zM1709.7 1087.36h2v2h-2zM1709.7 1119h2v2h-2zM1709.7 1150.63h2v2h-2zM1709.7 1182.27h2v2h-2zM1709.7 1213.91h2v2h-2zM1709.7 1245.54h2v2h-2zM1709.7 1277.18h2v2h-2zM1709.7 1308.82h2v2h-2zM1709.7 1340.45h2v2h-2zM1709.7 1372.09h2v2h-2zM1709.7 1403.73h2v2h-2zM1709.7 1435.37h2v2h-2zM1741.34 11.7h2v2h-2zM1741.34 43.34h2v2h-2zM1741.34 74.97h2v2h-2zM1741.34 106.61h2v2h-2zM1741.34 138.25h2v2h-2zM1741.34 169.88h2v2h-2zM1741.34 201.52h2v2h-2zM1741.34 233.16h2v2h-2zM1741.34 264.8h2v2h-2zM1741.34 296.43h2v2h-2zM1741.34 328.07h2v2h-2zM1741.34 359.71h2v2h-2zM1741.34 391.34h2v2h-2zM1741.34 422.98h2v2h-2zM1741.34 454.62h2v2h-2zM1741.34 486.25h2v2h-2zM1741.34 517.89h2v2h-2zM1741.34 549.53h2v2h-2zM1741.34 581.17h2v2h-2zM1741.34 612.8h2v2h-2zM1741.34 644.44h2v2h-2zM1741.34 676.08h2v2h-2zM1741.34 707.71h2v2h-2zM1741.34 739.35h2v2h-2zM1741.34 770.99h2v2h-2zM1741.34 802.62h2v2h-2zM1741.34 834.26h2v2h-2zM1741.34 865.9h2v2h-2zM1741.34 897.54h2v2h-2zM1741.34 929.17h2v2h-2zM1741.34 960.81h2v2h-2zM1741.34 992.45h2v2h-2zM1741.34 1024.08h2v2h-2zM1741.34 1055.72h2v2h-2zM1741.34 1087.36h2v2h-2zM1741.34 1119h2v2h-2zM1741.34 1150.63h2v2h-2zM1741.34 1182.27h2v2h-2zM1741.34 1213.91h2v2h-2zM1741.34 1245.54h2v2h-2zM1741.34 1277.18h2v2h-2zM1741.34 1308.82h2v2h-2zM1741.34 1340.45h2v2h-2zM1741.34 1372.09h2v2h-2zM1741.34 1403.73h2v2h-2zM1741.34 1435.37h2v2h-2zM1772.97 11.7h2v2h-2zM1772.97 43.34h2v2h-2zM1772.97 74.97h2v2h-2zM1772.97 106.61h2v2h-2zM1772.97 138.25h2v2h-2zM1772.97 169.88h2v2h-2zM1772.97 201.52h2v2h-2zM1772.97 233.16h2v2h-2zM1772.97 264.8h2v2h-2zM1772.97 296.43h2v2h-2zM1772.97 328.07h2v2h-2zM1772.97 359.71h2v2h-2zM1772.97 391.34h2v2h-2zM1772.97 422.98h2v2h-2zM1772.97 454.62h2v2h-2zM1772.97 486.25h2v2h-2zM1772.97 517.89h2v2h-2zM1772.97 549.53h2v2h-2zM1772.97 581.17h2v2h-2zM1772.97 612.8h2v2h-2zM1772.97 644.44h2v2h-2zM1772.97 676.08h2v2h-2zM1772.97 707.71h2v2h-2zM1772.97 739.35h2v2h-2zM1772.97 770.99h2v2h-2zM1772.97 802.62h2v2h-2zM1772.97 834.26h2v2h-2zM1772.97 865.9h2v2h-2zM1772.97 897.54h2v2h-2zM1772.97 929.17h2v2h-2zM1772.97 960.81h2v2h-2zM1772.97 992.45h2v2h-2zM1772.97 1024.08h2v2h-2zM1772.97 1055.72h2v2h-2zM1772.97 1087.36h2v2h-2zM1772.97 1119h2v2h-2zM1772.97 1150.63h2v2h-2zM1772.97 1182.27h2v2h-2zM1772.97 1213.91h2v2h-2zM1772.97 1245.54h2v2h-2zM1772.97 1277.18h2v2h-2zM1772.97 1308.82h2v2h-2zM1772.97 1340.45h2v2h-2zM1772.97 1372.09h2v2h-2zM1772.97 1403.73h2v2h-2zM1772.97 1435.37h2v2h-2zM1804.61 11.7h2v2h-2zM1804.61 43.34h2v2h-2zM1804.61 74.97h2v2h-2zM1804.61 106.61h2v2h-2zM1804.61 138.25h2v2h-2zM1804.61 169.88h2v2h-2zM1804.61 201.52h2v2h-2zM1804.61 233.16h2v2h-2zM1804.61 264.8h2v2h-2zM1804.61 296.43h2v2h-2zM1804.61 328.07h2v2h-2zM1804.61 359.71h2v2h-2zM1804.61 391.34h2v2h-2zM1804.61 422.98h2v2h-2zM1804.61 454.62h2v2h-2zM1804.61 486.25h2v2h-2zM1804.61 517.89h2v2h-2zM1804.61 549.53h2v2h-2zM1804.61 581.17h2v2h-2zM1804.61 612.8h2v2h-2zM1804.61 644.44h2v2h-2zM1804.61 676.08h2v2h-2zM1804.61 707.71h2v2h-2zM1804.61 739.35h2v2h-2zM1804.61 770.99h2v2h-2zM1804.61 802.62h2v2h-2zM1804.61 834.26h2v2h-2zM1804.61 865.9h2v2h-2zM1804.61 897.54h2v2h-2zM1804.61 929.17h2v2h-2zM1804.61 960.81h2v2h-2zM1804.61 992.45h2v2h-2zM1804.61 1024.08h2v2h-2zM1804.61 1055.72h2v2h-2zM1804.61 1087.36h2v2h-2zM1804.61 1119h2v2h-2zM1804.61 1150.63h2v2h-2zM1804.61 1182.27h2v2h-2zM1804.61 1213.91h2v2h-2zM1804.61 1245.54h2v2h-2zM1804.61 1277.18h2v2h-2zM1804.61 1308.82h2v2h-2zM1804.61 1340.45h2v2h-2zM1804.61 1372.09h2v2h-2zM1804.61 1403.73h2v2h-2zM1804.61 1435.37h2v2h-2zM1836.25 11.7h2v2h-2zM1836.25 43.34h2v2h-2zM1836.25 74.97h2v2h-2zM1836.25 106.61h2v2h-2zM1836.25 138.25h2v2h-2zM1836.25 169.88h2v2h-2zM1836.25 201.52h2v2h-2zM1836.25 233.16h2v2h-2zM1836.25 264.8h2v2h-2zM1836.25 296.43h2v2h-2zM1836.25 328.07h2v2h-2zM1836.25 359.71h2v2h-2zM1836.25 391.34h2v2h-2zM1836.25 422.98h2v2h-2zM1836.25 454.62h2v2h-2zM1836.25 486.25h2v2h-2zM1836.25 517.89h2v2h-2zM1836.25 549.53h2v2h-2zM1836.25 581.17h2v2h-2zM1836.25 612.8h2v2h-2zM1836.25 644.44h2v2h-2zM1836.25 676.08h2v2h-2zM1836.25 707.71h2v2h-2zM1836.25 739.35h2v2h-2zM1836.25 770.99h2v2h-2zM1836.25 802.62h2v2h-2zM1836.25 834.26h2v2h-2zM1836.25 865.9h2v2h-2zM1836.25 897.54h2v2h-2zM1836.25 929.17h2v2h-2zM1836.25 960.81h2v2h-2zM1836.25 992.45h2v2h-2zM1836.25 1024.08h2v2h-2zM1836.25 1055.72h2v2h-2zM1836.25 1087.36h2v2h-2zM1836.25 1119h2v2h-2zM1836.25 1150.63h2v2h-2zM1836.25 1182.27h2v2h-2zM1836.25 1213.91h2v2h-2zM1836.25 1245.54h2v2h-2zM1836.25 1277.18h2v2h-2zM1836.25 1308.82h2v2h-2zM1836.25 1340.45h2v2h-2zM1836.25 1372.09h2v2h-2zM1836.25 1403.73h2v2h-2zM1836.25 1435.37h2v2h-2zM1867.88 11.7h2v2h-2zM1867.88 43.34h2v2h-2zM1867.88 74.97h2v2h-2zM1867.88 106.61h2v2h-2zM1867.88 138.25h2v2h-2zM1867.88 169.88h2v2h-2zM1867.88 201.52h2v2h-2zM1867.88 233.16h2v2h-2zM1867.88 264.8h2v2h-2zM1867.88 296.43h2v2h-2zM1867.88 328.07h2v2h-2zM1867.88 359.71h2v2h-2zM1867.88 391.34h2v2h-2zM1867.88 422.98h2v2h-2zM1867.88 454.62h2v2h-2zM1867.88 486.25h2v2h-2zM1867.88 517.89h2v2h-2zM1867.88 549.53h2v2h-2zM1867.88 581.17h2v2h-2zM1867.88 612.8h2v2h-2zM1867.88 644.44h2v2h-2zM1867.88 676.08h2v2h-2zM1867.88 707.71h2v2h-2zM1867.88 739.35h2v2h-2zM1867.88 770.99h2v2h-2zM1867.88 802.62h2v2h-2zM1867.88 834.26h2v2h-2zM1867.88 865.9h2v2h-2zM1867.88 897.54h2v2h-2zM1867.88 929.17h2v2h-2zM1867.88 960.81h2v2h-2zM1867.88 992.45h2v2h-2zM1867.88 1024.08h2v2h-2zM1867.88 1055.72h2v2h-2zM1867.88 1087.36h2v2h-2zM1867.88 1119h2v2h-2zM1867.88 1150.63h2v2h-2zM1867.88 1182.27h2v2h-2zM1867.88 1213.91h2v2h-2zM1867.88 1245.54h2v2h-2zM1867.88 1277.18h2v2h-2zM1867.88 1308.82h2v2h-2zM1867.88 1340.45h2v2h-2zM1867.88 1372.09h2v2h-2zM1867.88 1403.73h2v2h-2zM1867.88 1435.37h2v2h-2zM1899.52 11.7h2v2h-2zM1899.52 43.34h2v2h-2zM1899.52 74.97h2v2h-2zM1899.52 106.61h2v2h-2zM1899.52 138.25h2v2h-2zM1899.52 169.88h2v2h-2zM1899.52 201.52h2v2h-2zM1899.52 233.16h2v2h-2zM1899.52 264.8h2v2h-2zM1899.52 296.43h2v2h-2zM1899.52 328.07h2v2h-2zM1899.52 359.71h2v2h-2zM1899.52 391.34h2v2h-2zM1899.52 422.98h2v2h-2zM1899.52 454.62h2v2h-2zM1899.52 486.25h2v2h-2zM1899.52 517.89h2v2h-2zM1899.52 549.53h2v2h-2zM1899.52 581.17h2v2h-2zM1899.52 612.8h2v2h-2zM1899.52 644.44h2v2h-2zM1899.52 676.08h2v2h-2zM1899.52 707.71h2v2h-2zM1899.52 739.35h2v2h-2zM1899.52 770.99h2v2h-2zM1899.52 802.62h2v2h-2zM1899.52 834.26h2v2h-2zM1899.52 865.9h2v2h-2zM1899.52 897.54h2v2h-2zM1899.52 929.17h2v2h-2zM1899.52 960.81h2v2h-2zM1899.52 992.45h2v2h-2zM1899.52 1024.08h2v2h-2zM1899.52 1055.72h2v2h-2zM1899.52 1087.36h2v2h-2zM1899.52 1119h2v2h-2zM1899.52 1150.63h2v2h-2zM1899.52 1182.27h2v2h-2zM1899.52 1213.91h2v2h-2zM1899.52 1245.54h2v2h-2zM1899.52 1277.18h2v2h-2zM1899.52 1308.82h2v2h-2zM1899.52 1340.45h2v2h-2zM1899.52 1372.09h2v2h-2zM1899.52 1403.73h2v2h-2zM1899.52 1435.37h2v2h-2zM1931.16 11.7h2v2h-2zM1931.16 43.34h2v2h-2zM1931.16 74.97h2v2h-2zM1931.16 106.61h2v2h-2zM1931.16 138.25h2v2h-2zM1931.16 169.88h2v2h-2zM1931.16 201.52h2v2h-2zM1931.16 233.16h2v2h-2zM1931.16 264.8h2v2h-2zM1931.16 296.43h2v2h-2zM1931.16 328.07h2v2h-2zM1931.16 359.71h2v2h-2zM1931.16 391.34h2v2h-2zM1931.16 422.98h2v2h-2zM1931.16 454.62h2v2h-2zM1931.16 486.25h2v2h-2zM1931.16 517.89h2v2h-2zM1931.16 549.53h2v2h-2zM1931.16 581.17h2v2h-2zM1931.16 612.8h2v2h-2zM1931.16 644.44h2v2h-2zM1931.16 676.08h2v2h-2zM1931.16 707.71h2v2h-2zM1931.16 739.35h2v2h-2zM1931.16 770.99h2v2h-2zM1931.16 802.62h2v2h-2zM1931.16 834.26h2v2h-2zM1931.16 865.9h2v2h-2zM1931.16 897.54h2v2h-2zM1931.16 929.17h2v2h-2zM1931.16 960.81h2v2h-2zM1931.16 992.45h2v2h-2zM1931.16 1024.08h2v2h-2zM1931.16 1055.72h2v2h-2zM1931.16 1087.36h2v2h-2zM1931.16 1119h2v2h-2zM1931.16 1150.63h2v2h-2zM1931.16 1182.27h2v2h-2zM1931.16 1213.91h2v2h-2zM1931.16 1245.54h2v2h-2zM1931.16 1277.18h2v2h-2zM1931.16 1308.82h2v2h-2zM1931.16 1340.45h2v2h-2zM1931.16 1372.09h2v2h-2zM1931.16 1403.73h2v2h-2zM1931.16 1435.37h2v2h-2zM1962.79 11.7h2v2h-2zM1962.79 43.34h2v2h-2zM1962.79 74.97h2v2h-2zM1962.79 106.61h2v2h-2zM1962.79 138.25h2v2h-2zM1962.79 169.88h2v2h-2zM1962.79 201.52h2v2h-2zM1962.79 233.16h2v2h-2zM1962.79 264.8h2v2h-2zM1962.79 296.43h2v2h-2zM1962.79 328.07h2v2h-2zM1962.79 359.71h2v2h-2zM1962.79 391.34h2v2h-2zM1962.79 422.98h2v2h-2zM1962.79 454.62h2v2h-2zM1962.79 486.25h2v2h-2zM1962.79 517.89h2v2h-2zM1962.79 549.53h2v2h-2zM1962.79 581.17h2v2h-2zM1962.79 612.8h2v2h-2zM1962.79 644.44h2v2h-2zM1962.79 676.08h2v2h-2zM1962.79 707.71h2v2h-2zM1962.79 739.35h2v2h-2zM1962.79 770.99h2v2h-2zM1962.79 802.62h2v2h-2zM1962.79 834.26h2v2h-2zM1962.79 865.9h2v2h-2zM1962.79 897.54h2v2h-2zM1962.79 929.17h2v2h-2zM1962.79 960.81h2v2h-2zM1962.79 992.45h2v2h-2zM1962.79 1024.08h2v2h-2zM1962.79 1055.72h2v2h-2zM1962.79 1087.36h2v2h-2zM1962.79 1119h2v2h-2zM1962.79 1150.63h2v2h-2zM1962.79 1182.27h2v2h-2zM1962.79 1213.91h2v2h-2zM1962.79 1245.54h2v2h-2zM1962.79 1277.18h2v2h-2zM1962.79 1308.82h2v2h-2zM1962.79 1340.45h2v2h-2zM1962.79 1372.09h2v2h-2zM1962.79 1403.73h2v2h-2zM1962.79 1435.37h2v2h-2z"/><path d="M320.05 694.15L515.08 693.9" stroke="#584bbd" stroke-width="3.9" fill="none"/><path d="M504.88 683.6L516.08 693.9L504.88 704.2Z" fill="#584bbd" stroke="#584bbd" stroke-width="4.0" stroke-linejoin="round"/><path d="M731.13 599.09 C893.87 599.09 893.87 124.6 1056.61 124.6" stroke="#4f9e69" stroke-width="3.9" fill="none"/><path d="M1042.71 114.3L1053.91 124.6L1042.71 134.9Z" fill="#4f9e69" stroke="#4f9e69" stroke-width="4.0" stroke-linejoin="round"/><path d="M731.13 662.36 C893.87 662.36 893.87 504.24 1056.61 504.24" stroke="#808186" stroke-width="3.9" fill="none"/><path d="M1042.71 493.94L1053.91 504.24L1042.71 514.54Z" fill="#808186" stroke="#808186" stroke-width="4.0" stroke-linejoin="round"/><path d="M731.13 725.64 C893.87 725.64 893.87 883.89 1056.61 883.89" stroke="#808186" stroke-width="3.9" fill="none"/><path d="M1042.71 873.59L1053.91 883.89L1042.71 894.19Z" fill="#808186" stroke="#808186" stroke-width="4.0" stroke-linejoin="round"/><path d="M731.13 788.91 C893.87 788.91 893.87 1263.53 1056.61 1263.53" stroke="#808186" stroke-width="3.9" fill="none"/><path d="M1042.71 1253.23L1053.91 1263.53L1042.71 1273.83Z" fill="#808186" stroke="#808186" stroke-width="4.0" stroke-linejoin="round"/><path d="M1253.16 124.7L1559.1 124.6" stroke="#808186" stroke-width="3.9" fill="none"/><path d="M1548.9 114.3L1560.1 124.6L1548.9 134.9Z" fill="#808186" stroke="#808186" stroke-width="4.0" stroke-linejoin="round"/><path d="M1253.16 504.34L1364.06 504.34" stroke="#808186" stroke-width="3.3" fill="none"/><path d="M1253.16 883.99L1364.06 883.99" stroke="#808186" stroke-width="3.3" fill="none"/><path d="M1253.16 1263.63L1364.06 1263.63" stroke="#808186" stroke-width="3.3" fill="none"/><path d="M1759.35 124.7L1870.25 124.7" stroke="#808186" stroke-width="3.3" fill="none"/><clipPath id="c1"><rect x="396.5" y="670" width="80" height="50"/></clipPath><rect x="384.4" y="682" width="68.7" height="24.5" fill="rgba(251,251,253,0.85)"/><g clip-path="url(#c1)"><text x="0" y="0" transform="translate(381.98 702.9) scale(0.9845 1)" font-size="26.6" fill="#65676e" text-anchor="start">1 item</text></g><rect x="327.1" y="682" width="64.1" height="24.5" fill="rgba(251,251,253,0.85)"/><rect x="391.0" y="684.4" width="1.2" height="18.5" fill="#65676e"/><text x="0" y="0" transform="translate(327.7 702.9) scale(0.9276 1)" font-size="24.8" fill="#7b7c83" text-anchor="start">POST</text><rect x="856" y="349" width="73" height="26" fill="rgba(251,251,253,0.85)"/><text x="0" y="0" transform="translate(856.99 370.95) scale(0.9772 1)" font-size="26.6" fill="#65676e" text-anchor="start">1 item</text><rect x="738.5" y="586.6" width="90.5" height="24.3" fill="rgba(251,251,253,0.85)"/><text x="0" y="0" transform="translate(738.83 607.9) scale(1.1291 1)" font-size="22.8" fill="#7b7c83" text-anchor="start">addition</text><rect x="738.5" y="649.7" width="127.25" height="24.3" fill="rgba(251,251,253,0.85)"/><text x="0" y="0" transform="translate(739.23 671) scale(1.1375 1)" font-size="22.8" fill="#7b7c83" text-anchor="start">subtraction</text><rect x="738.5" y="713.6" width="149.9" height="24.3" fill="rgba(251,251,253,0.85)"/><text x="0" y="0" transform="translate(738.3 734.9) scale(1.1402 1)" font-size="22.8" fill="#7b7c83" text-anchor="start">multiplication</text><rect x="738.5" y="776.6" width="86.6" height="24.3" fill="rgba(251,251,253,0.85)"/><text x="0" y="0" transform="translate(738.83 797.9) scale(1.1374 1)" font-size="22.8" fill="#7b7c83" text-anchor="start">division</text><path d="M182.45 600.72 H288.45 A13.62 13.62 0 0 1 302.07 614.35 V773.15 A13.62 13.62 0 0 1 288.45 786.77 H182.45 A66.33 66.33 0 0 1 116.12 720.45 V667.05 A66.33 66.33 0 0 1 182.45 600.72Z" fill="#fff" stroke="#584bbd" stroke-width="3.35"/><rect x="527.41" y="537.62" width="185.95" height="312.55" rx="13.62" fill="#fff" stroke="#4f9e69" stroke-width="3.35"/><rect x="1065.23" y="31.28" width="185.95" height="186.05" rx="13.62" fill="#fff" stroke="#808186" stroke-width="3.35"/><rect x="1065.23" y="410.92" width="185.95" height="186.05" rx="13.62" fill="#fff" stroke="#808186" stroke-width="3.35"/><rect x="1065.23" y="790.56" width="185.95" height="186.05" rx="13.62" fill="#fff" stroke="#808186" stroke-width="3.35"/><rect x="1065.23" y="1170.21" width="185.95" height="186.05" rx="13.62" fill="#fff" stroke="#808186" stroke-width="3.35"/><rect x="1571.43" y="31.28" width="185.95" height="186.05" rx="13.62" fill="#fff" stroke="#808186" stroke-width="3.35"/><circle cx="304.05" cy="694.15" r="16" fill="#808186"/><rect x="517.88" y="678.4" width="15.2" height="31" fill="#808186"/><circle cx="715.13" cy="599.09" r="16" fill="#808186"/><circle cx="715.13" cy="662.36" r="16" fill="#808186"/><circle cx="715.13" cy="725.64" r="16" fill="#808186"/><circle cx="715.13" cy="788.91" r="16" fill="#808186"/><rect x="1055.71" y="109.1" width="15.2" height="31" fill="#808186"/><rect x="1055.71" y="488.74" width="15.2" height="31" fill="#808186"/><rect x="1055.71" y="868.39" width="15.2" height="31" fill="#808186"/><rect x="1055.71" y="1248.03" width="15.2" height="31" fill="#808186"/><circle cx="1253.16" cy="124.7" r="16" fill="#808186"/><circle cx="1253.16" cy="504.34" r="16" fill="#808186"/><circle cx="1253.16" cy="883.99" r="16" fill="#808186"/><circle cx="1253.16" cy="1263.63" r="16" fill="#808186"/><rect x="1561.9" y="109.1" width="15.2" height="31" fill="#808186"/><circle cx="1759.35" cy="124.7" r="16" fill="#808186"/><rect x="1364.06" y="484.34" width="40" height="40" rx="7.8" fill="#fff" stroke="#808186" stroke-width="3.5"/><path d="M1376.06 504.34h16M1384.06 496.34v16" stroke="#2f3035" stroke-width="1.9" fill="none" stroke-linecap="round"/><rect x="1364.06" y="863.99" width="40" height="40" rx="7.8" fill="#fff" stroke="#808186" stroke-width="3.5"/><path d="M1376.06 883.99h16M1384.06 875.99v16" stroke="#2f3035" stroke-width="1.9" fill="none" stroke-linecap="round"/><rect x="1364.06" y="1243.63" width="40" height="40" rx="7.8" fill="#fff" stroke="#808186" stroke-width="3.5"/><path d="M1376.06 1263.63h16M1384.06 1255.63v16" stroke="#2f3035" stroke-width="1.9" fill="none" stroke-linecap="round"/><rect x="1870.25" y="104.7" width="40" height="40" rx="7.8" fill="#fff" stroke="#808186" stroke-width="3.5"/><path d="M1882.25 124.7h16M1890.25 116.7v16" stroke="#2f3035" stroke-width="1.9" fill="none" stroke-linecap="round"/><g transform="translate(1158.61 124.5)" fill="#f09d3e"><path d="M-7.5 -39.35L-13.5 -39.35C-20.5 -39.35 -25.5 -34.5 -25.5 -27.5L-25.5 -12C-25.5 -6 -29.5 -3.1 -36 -3.1Q-37.6 -3.1 -37.6 -1.5L-37.6 1.5Q-37.6 3.1 -36 3.1C-29.5 3.1 -25.5 6 -25.5 12L-25.5 27.5C-25.5 34.5 -20.5 39.35 -13.5 39.35L-7.5 39.35L-7.5 31.95L-12.5 31.95C-16 31.95 -18.3 29.6 -18.3 26L-18.3 12.5C-18.3 6.5 -20.3 2.5 -23.2 0C-20.3 -2.5 -18.3 -6.5 -18.3 -12.5L-18.3 -26C-18.3 -29.6 -16 -31.95 -12.5 -31.95L-7.5 -31.95Z"/><path transform="scale(-1 1)" d="M-7.5 -39.35L-13.5 -39.35C-20.5 -39.35 -25.5 -34.5 -25.5 -27.5L-25.5 -12C-25.5 -6 -29.5 -3.1 -36 -3.1Q-37.6 -3.1 -37.6 -1.5L-37.6 1.5Q-37.6 3.1 -36 3.1C-29.5 3.1 -25.5 6 -25.5 12L-25.5 27.5C-25.5 34.5 -20.5 39.35 -13.5 39.35L-7.5 39.35L-7.5 31.95L-12.5 31.95C-16 31.95 -18.3 29.6 -18.3 26L-18.3 12.5C-18.3 6.5 -20.3 2.5 -23.2 0C-20.3 -2.5 -18.3 -6.5 -18.3 -12.5L-18.3 -26C-18.3 -29.6 -16 -31.95 -12.5 -31.95L-7.5 -31.95Z"/></g><g transform="translate(1158.61 504.14)" fill="#f09d3e"><path d="M-7.5 -39.35L-13.5 -39.35C-20.5 -39.35 -25.5 -34.5 -25.5 -27.5L-25.5 -12C-25.5 -6 -29.5 -3.1 -36 -3.1Q-37.6 -3.1 -37.6 -1.5L-37.6 1.5Q-37.6 3.1 -36 3.1C-29.5 3.1 -25.5 6 -25.5 12L-25.5 27.5C-25.5 34.5 -20.5 39.35 -13.5 39.35L-7.5 39.35L-7.5 31.95L-12.5 31.95C-16 31.95 -18.3 29.6 -18.3 26L-18.3 12.5C-18.3 6.5 -20.3 2.5 -23.2 0C-20.3 -2.5 -18.3 -6.5 -18.3 -12.5L-18.3 -26C-18.3 -29.6 -16 -31.95 -12.5 -31.95L-7.5 -31.95Z"/><path transform="scale(-1 1)" d="M-7.5 -39.35L-13.5 -39.35C-20.5 -39.35 -25.5 -34.5 -25.5 -27.5L-25.5 -12C-25.5 -6 -29.5 -3.1 -36 -3.1Q-37.6 -3.1 -37.6 -1.5L-37.6 1.5Q-37.6 3.1 -36 3.1C-29.5 3.1 -25.5 6 -25.5 12L-25.5 27.5C-25.5 34.5 -20.5 39.35 -13.5 39.35L-7.5 39.35L-7.5 31.95L-12.5 31.95C-16 31.95 -18.3 29.6 -18.3 26L-18.3 12.5C-18.3 6.5 -20.3 2.5 -23.2 0C-20.3 -2.5 -18.3 -6.5 -18.3 -12.5L-18.3 -26C-18.3 -29.6 -16 -31.95 -12.5 -31.95L-7.5 -31.95Z"/></g><g transform="translate(1158.61 883.79)" fill="#f09d3e"><path d="M-7.5 -39.35L-13.5 -39.35C-20.5 -39.35 -25.5 -34.5 -25.5 -27.5L-25.5 -12C-25.5 -6 -29.5 -3.1 -36 -3.1Q-37.6 -3.1 -37.6 -1.5L-37.6 1.5Q-37.6 3.1 -36 3.1C-29.5 3.1 -25.5 6 -25.5 12L-25.5 27.5C-25.5 34.5 -20.5 39.35 -13.5 39.35L-7.5 39.35L-7.5 31.95L-12.5 31.95C-16 31.95 -18.3 29.6 -18.3 26L-18.3 12.5C-18.3 6.5 -20.3 2.5 -23.2 0C-20.3 -2.5 -18.3 -6.5 -18.3 -12.5L-18.3 -26C-18.3 -29.6 -16 -31.95 -12.5 -31.95L-7.5 -31.95Z"/><path transform="scale(-1 1)" d="M-7.5 -39.35L-13.5 -39.35C-20.5 -39.35 -25.5 -34.5 -25.5 -27.5L-25.5 -12C-25.5 -6 -29.5 -3.1 -36 -3.1Q-37.6 -3.1 -37.6 -1.5L-37.6 1.5Q-37.6 3.1 -36 3.1C-29.5 3.1 -25.5 6 -25.5 12L-25.5 27.5C-25.5 34.5 -20.5 39.35 -13.5 39.35L-7.5 39.35L-7.5 31.95L-12.5 31.95C-16 31.95 -18.3 29.6 -18.3 26L-18.3 12.5C-18.3 6.5 -20.3 2.5 -23.2 0C-20.3 -2.5 -18.3 -6.5 -18.3 -12.5L-18.3 -26C-18.3 -29.6 -16 -31.95 -12.5 -31.95L-7.5 -31.95Z"/></g><g transform="translate(1158.61 1263.43)" fill="#f09d3e"><path d="M-7.5 -39.35L-13.5 -39.35C-20.5 -39.35 -25.5 -34.5 -25.5 -27.5L-25.5 -12C-25.5 -6 -29.5 -3.1 -36 -3.1Q-37.6 -3.1 -37.6 -1.5L-37.6 1.5Q-37.6 3.1 -36 3.1C-29.5 3.1 -25.5 6 -25.5 12L-25.5 27.5C-25.5 34.5 -20.5 39.35 -13.5 39.35L-7.5 39.35L-7.5 31.95L-12.5 31.95C-16 31.95 -18.3 29.6 -18.3 26L-18.3 12.5C-18.3 6.5 -20.3 2.5 -23.2 0C-20.3 -2.5 -18.3 -6.5 -18.3 -12.5L-18.3 -26C-18.3 -29.6 -16 -31.95 -12.5 -31.95L-7.5 -31.95Z"/><path transform="scale(-1 1)" d="M-7.5 -39.35L-13.5 -39.35C-20.5 -39.35 -25.5 -34.5 -25.5 -27.5L-25.5 -12C-25.5 -6 -29.5 -3.1 -36 -3.1Q-37.6 -3.1 -37.6 -1.5L-37.6 1.5Q-37.6 3.1 -36 3.1C-29.5 3.1 -25.5 6 -25.5 12L-25.5 27.5C-25.5 34.5 -20.5 39.35 -13.5 39.35L-7.5 39.35L-7.5 31.95L-12.5 31.95C-16 31.95 -18.3 29.6 -18.3 26L-18.3 12.5C-18.3 6.5 -20.3 2.5 -23.2 0C-20.3 -2.5 -18.3 -6.5 -18.3 -12.5L-18.3 -26C-18.3 -29.6 -16 -31.95 -12.5 -31.95L-7.5 -31.95Z"/></g><path d="M228.3 709.2 L206.6 709.2 A13.3 13.3 0 1 1 189.41 696.48" fill="none" stroke="#37424a" stroke-width="6.2"/><circle cx="228.3" cy="709.2" r="6.3" fill="#37424a"/><path d="M211.3 679.45 L221.7 697.65 A13.3 13.3 0 1 1 218.07 717.7" fill="none" stroke="#37424a" stroke-width="6.2"/><circle cx="211.3" cy="679.45" r="6.3" fill="#37424a"/><path d="M193.3 709.2 L204.42 690.83 A13.3 13.3 0 1 1 224.35 682.03" fill="none" stroke="#d63566" stroke-width="6.2"/><circle cx="193.3" cy="709.2" r="6.3" fill="#d63566"/><path d="M1683.6 139.75 L1661.9 139.75 A13.3 13.3 0 1 1 1644.71 127.03" fill="none" stroke="#37424a" stroke-width="6.2"/><circle cx="1683.6" cy="139.75" r="6.3" fill="#37424a"/><path d="M1666.6 110 L1677 128.2 A13.3 13.3 0 1 1 1673.38 148.25" fill="none" stroke="#37424a" stroke-width="6.2"/><circle cx="1666.6" cy="110" r="6.3" fill="#37424a"/><path d="M1648.6 139.75 L1659.72 121.38 A13.3 13.3 0 1 1 1679.65 112.58" fill="none" stroke="#d63566" stroke-width="6.2"/><circle cx="1648.6" cy="139.75" r="6.3" fill="#d63566"/><g transform="translate(257 741.8) scale(1.32)" fill="none" stroke="#584bbd" stroke-width="2" stroke-linecap="round" stroke-linejoin="round"><path d="M12 17v5"/><path d="M9 10.76a2 2 0 0 1-1.11 1.79l-1.78.9A2 2 0 0 0 5 15.24V16a1 1 0 0 0 1 1h12a1 1 0 0 0 1-1v-.76a2 2 0 0 0-1.11-1.79l-1.78-.9A2 2 0 0 1 15 10.76V7a1 1 0 0 1 1-1 2 2 0 0 0 0-4H8a2 2 0 0 0 0 4 1 1 0 0 1 1 1z"/></g><g transform="translate(51.4 675.7) scale(1.32)" fill="#ef8672" stroke="#ef8672" stroke-width="2" stroke-linecap="round" stroke-linejoin="round"><path d="M4 14a1 1 0 0 1-.78-1.63l9.9-10.2a.5.5 0 0 1 .86.46l-1.92 6.02A1 1 0 0 0 13 10h7a1 1 0 0 1 .78 1.63l-9.9 10.2a.5.5 0 0 1-.86-.46l1.92-6.02A1 1 0 0 0 11 14z"/></g><g transform="translate(668.4 805.5) scale(1.32)" fill="none" stroke="#4f9e69" stroke-width="2" stroke-linecap="round" stroke-linejoin="round"><path d="M20 6 9 17l-5-5"/></g><g fill="#72a7ee"><path d="M615.83 659.95L615.83 656.7Q615.83 654.7 617.83 654.7L623.83 654.7Q625.83 654.7 625.83 656.7L625.83 659.95Q625.83 659.95 625.83 659.95L615.83 659.95Q615.83 659.95 615.83 659.95Z"/><path d="M588.13 659.9L649.13 659.9Q650.63 659.9 651.66 660.99L659.1 668.83Q659.93 669.7 659.1 670.57L651.66 678.41Q650.63 679.5 649.13 679.5L588.13 679.5Q586.13 679.5 586.13 677.5L586.13 661.9Q586.13 659.9 588.13 659.9Z"/><path d="M615.83 684.55L625.83 684.55Q625.83 684.55 625.83 684.55L625.83 689.75Q625.83 689.75 625.83 689.75L615.83 689.75Q615.83 689.75 615.83 689.75L615.83 684.55Q615.83 684.55 615.83 684.55Z"/><path d="M592.13 689.6L653.13 689.6Q655.13 689.6 655.13 691.6L655.13 707.3Q655.13 709.3 653.13 709.3L592.13 709.3Q590.63 709.3 589.58 708.23L581.77 700.31Q580.93 699.45 581.77 698.59L589.58 690.67Q590.63 689.6 592.13 689.6Z"/><path d="M615.83 714.3L625.83 714.3Q625.83 714.3 625.83 714.3L625.83 732.3Q625.83 734.3 623.83 734.3L617.83 734.3Q615.83 734.3 615.83 732.3L615.83 714.3Q615.83 714.3 615.83 714.3Z"/></g><text x="0" y="0" transform="translate(57.76 833.3) scale(1.0570 1)" font-size="31.8" fill="#393a3f" stroke="#393a3f" stroke-width="0.2" text-anchor="start">Webhook Calculator</text><text x="0" y="0" transform="translate(568.93 896.2) scale(1.0950 1)" font-size="31.8" fill="#393a3f" stroke="#393a3f" stroke-width="0.2" text-anchor="start">Switch</text><text x="0" y="0" transform="translate(544.99 937) scale(1.0349 1)" font-size="25.8" fill="#86878d" text-anchor="start">mode: Rules</text><text x="0" y="0" transform="translate(1051.02 263) scale(1.0735 1)" font-size="31.8" fill="#393a3f" stroke="#393a3f" stroke-width="0.2" text-anchor="start">Code Addition</text><text x="0" y="0" transform="translate(1026.83 642.9) scale(1.0707 1)" font-size="31.8" fill="#393a3f" stroke="#393a3f" stroke-width="0.2" text-anchor="start">Code Subtraction</text><text x="0" y="0" transform="translate(1012.5 1022.8) scale(1.0864 1)" font-size="31.8" fill="#393a3f" stroke="#393a3f" stroke-width="0.2" text-anchor="start">Code Multiplication</text><text x="0" y="0" transform="translate(1054.04 1401.8) scale(1.0613 1)" font-size="31.8" fill="#393a3f" stroke="#393a3f" stroke-width="0.2" text-anchor="start">Code Division</text><text x="0" y="0" transform="translate(1503.14 262.85) scale(1.0482 1)" font-size="31.8" fill="#393a3f" stroke="#393a3f" stroke-width="0.2" text-anchor="start">Respond to Webhook</text><text x="0" y="0" transform="translate(1602.71 302.5) scale(1.0858 1)" font-size="31.8" fill="#393a3f" stroke="#393a3f" stroke-width="0.2" text-anchor="start">Addition</text></svg></body></html>
